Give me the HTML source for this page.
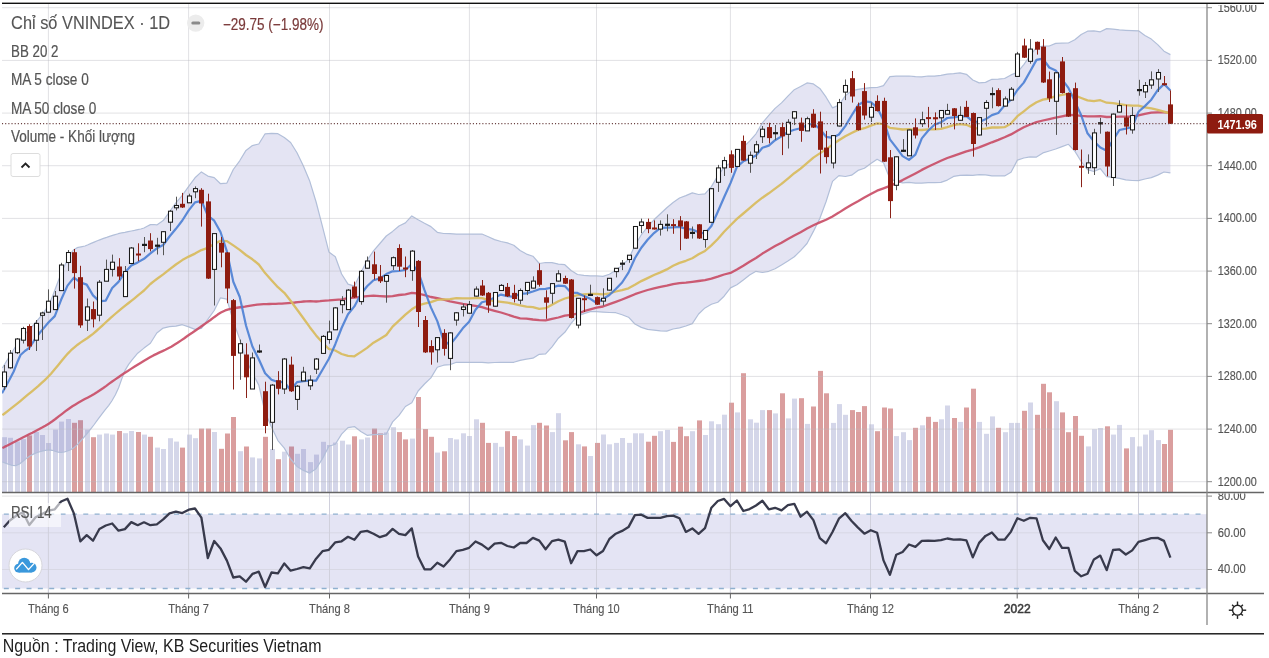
<!DOCTYPE html>
<html><head><meta charset="utf-8"><style>
html,body{margin:0;padding:0;background:#fff;}
body{width:1269px;height:658px;overflow:hidden;position:relative;}
</style></head><body>
<svg width="1269" height="658" viewBox="0 0 1269 658" style="display:block">
<defs><clipPath id="cm"><rect x="2" y="4" width="1205" height="488"/></clipPath><clipPath id="cpx"><rect x="1208" y="4.9" width="60" height="487"/></clipPath><clipPath id="cax"><rect x="1208" y="493.5" width="60" height="100"/></clipPath><clipPath id="cr"><rect x="2" y="493" width="1205" height="100"/></clipPath></defs>
<g clip-path="url(#cm)">
<rect x="2" y="437.2" width="5" height="55.3" fill="#a5a9d2" fill-opacity="0.48"/><rect x="8" y="437.8" width="5" height="54.7" fill="#a5a9d2" fill-opacity="0.48"/><rect x="15" y="441.5" width="5" height="51.0" fill="#a5a9d2" fill-opacity="0.48"/><rect x="21" y="439.2" width="5" height="53.3" fill="#a5a9d2" fill-opacity="0.48"/><rect x="27" y="435.4" width="5" height="57.1" fill="#b23434" fill-opacity="0.48"/><rect x="34" y="432.0" width="5" height="60.5" fill="#a5a9d2" fill-opacity="0.48"/><rect x="40" y="435.0" width="5" height="57.5" fill="#a5a9d2" fill-opacity="0.48"/><rect x="46" y="443.0" width="5" height="49.5" fill="#a5a9d2" fill-opacity="0.48"/><rect x="53" y="429.6" width="5" height="62.9" fill="#a5a9d2" fill-opacity="0.48"/><rect x="59" y="421.6" width="5" height="70.9" fill="#a5a9d2" fill-opacity="0.48"/><rect x="66" y="419.0" width="5" height="73.5" fill="#a5a9d2" fill-opacity="0.48"/><rect x="72" y="422.8" width="5" height="69.7" fill="#b23434" fill-opacity="0.48"/><rect x="78" y="420.2" width="5" height="72.3" fill="#b23434" fill-opacity="0.48"/><rect x="85" y="429.6" width="5" height="62.9" fill="#a5a9d2" fill-opacity="0.48"/><rect x="91" y="437.2" width="5" height="55.3" fill="#b23434" fill-opacity="0.48"/><rect x="97" y="434.6" width="5" height="57.9" fill="#a5a9d2" fill-opacity="0.48"/><rect x="104" y="433.5" width="5" height="59.0" fill="#a5a9d2" fill-opacity="0.48"/><rect x="110" y="434.6" width="5" height="57.9" fill="#a5a9d2" fill-opacity="0.48"/><rect x="117" y="431.0" width="5" height="61.5" fill="#b23434" fill-opacity="0.48"/><rect x="123" y="433.2" width="5" height="59.3" fill="#a5a9d2" fill-opacity="0.48"/><rect x="129" y="431.0" width="5" height="61.5" fill="#a5a9d2" fill-opacity="0.48"/><rect x="136" y="432.0" width="5" height="60.5" fill="#b23434" fill-opacity="0.48"/><rect x="142" y="434.6" width="5" height="57.9" fill="#a5a9d2" fill-opacity="0.48"/><rect x="148" y="436.8" width="5" height="55.7" fill="#b23434" fill-opacity="0.48"/><rect x="155" y="447.6" width="5" height="44.9" fill="#a5a9d2" fill-opacity="0.48"/><rect x="161" y="449.0" width="5" height="43.5" fill="#a5a9d2" fill-opacity="0.48"/><rect x="168" y="438.2" width="5" height="54.3" fill="#a5a9d2" fill-opacity="0.48"/><rect x="174" y="441.6" width="5" height="50.9" fill="#a5a9d2" fill-opacity="0.48"/><rect x="180" y="447.6" width="5" height="44.9" fill="#b23434" fill-opacity="0.48"/><rect x="187" y="434.6" width="5" height="57.9" fill="#a5a9d2" fill-opacity="0.48"/><rect x="193" y="438.2" width="5" height="54.3" fill="#a5a9d2" fill-opacity="0.48"/><rect x="199" y="428.6" width="5" height="63.9" fill="#b23434" fill-opacity="0.48"/><rect x="206" y="428.6" width="5" height="63.9" fill="#b23434" fill-opacity="0.48"/><rect x="212" y="432.0" width="5" height="60.5" fill="#a5a9d2" fill-opacity="0.48"/><rect x="219" y="448.8" width="5" height="43.7" fill="#b23434" fill-opacity="0.48"/><rect x="225" y="433.5" width="5" height="59.0" fill="#b23434" fill-opacity="0.48"/><rect x="231" y="417.0" width="5" height="75.5" fill="#b23434" fill-opacity="0.48"/><rect x="238" y="451.2" width="5" height="41.3" fill="#a5a9d2" fill-opacity="0.48"/><rect x="244" y="446.5" width="5" height="46.0" fill="#b23434" fill-opacity="0.48"/><rect x="250" y="457.4" width="5" height="35.1" fill="#a5a9d2" fill-opacity="0.48"/><rect x="257" y="458.4" width="5" height="34.1" fill="#a5a9d2" fill-opacity="0.48"/><rect x="263" y="436.8" width="5" height="55.7" fill="#b23434" fill-opacity="0.48"/><rect x="270" y="449.0" width="5" height="43.5" fill="#a5a9d2" fill-opacity="0.48"/><rect x="276" y="459.2" width="5" height="33.3" fill="#b23434" fill-opacity="0.48"/><rect x="282" y="451.7" width="5" height="40.8" fill="#a5a9d2" fill-opacity="0.48"/><rect x="289" y="446.5" width="5" height="46.0" fill="#b23434" fill-opacity="0.48"/><rect x="295" y="453.8" width="5" height="38.7" fill="#a5a9d2" fill-opacity="0.48"/><rect x="301" y="449.0" width="5" height="43.5" fill="#a5a9d2" fill-opacity="0.48"/><rect x="308" y="462.1" width="5" height="30.4" fill="#a5a9d2" fill-opacity="0.48"/><rect x="314" y="454.6" width="5" height="37.9" fill="#a5a9d2" fill-opacity="0.48"/><rect x="321" y="441.8" width="5" height="50.7" fill="#a5a9d2" fill-opacity="0.48"/><rect x="327" y="445.0" width="5" height="47.5" fill="#a5a9d2" fill-opacity="0.48"/><rect x="333" y="442.6" width="5" height="49.9" fill="#a5a9d2" fill-opacity="0.48"/><rect x="340" y="440.7" width="5" height="51.8" fill="#a5a9d2" fill-opacity="0.48"/><rect x="346" y="444.5" width="5" height="48.0" fill="#a5a9d2" fill-opacity="0.48"/><rect x="352" y="436.3" width="5" height="56.2" fill="#b23434" fill-opacity="0.48"/><rect x="359" y="439.4" width="5" height="53.1" fill="#a5a9d2" fill-opacity="0.48"/><rect x="365" y="437.5" width="5" height="55.0" fill="#a5a9d2" fill-opacity="0.48"/><rect x="372" y="428.6" width="5" height="63.9" fill="#b23434" fill-opacity="0.48"/><rect x="378" y="433.4" width="5" height="59.1" fill="#b23434" fill-opacity="0.48"/><rect x="384" y="432.4" width="5" height="60.1" fill="#a5a9d2" fill-opacity="0.48"/><rect x="391" y="427.2" width="5" height="65.3" fill="#a5a9d2" fill-opacity="0.48"/><rect x="397" y="432.1" width="5" height="60.4" fill="#b23434" fill-opacity="0.48"/><rect x="403" y="439.4" width="5" height="53.1" fill="#b23434" fill-opacity="0.48"/><rect x="410" y="438.6" width="5" height="53.9" fill="#a5a9d2" fill-opacity="0.48"/><rect x="416" y="397.0" width="5" height="95.5" fill="#b23434" fill-opacity="0.48"/><rect x="423" y="429.0" width="5" height="63.5" fill="#b23434" fill-opacity="0.48"/><rect x="429" y="436.8" width="5" height="55.7" fill="#b23434" fill-opacity="0.48"/><rect x="435" y="452.6" width="5" height="39.9" fill="#a5a9d2" fill-opacity="0.48"/><rect x="442" y="451.3" width="5" height="41.2" fill="#b23434" fill-opacity="0.48"/><rect x="448" y="438.0" width="5" height="54.5" fill="#a5a9d2" fill-opacity="0.48"/><rect x="454" y="439.4" width="5" height="53.1" fill="#a5a9d2" fill-opacity="0.48"/><rect x="461" y="433.3" width="5" height="59.2" fill="#a5a9d2" fill-opacity="0.48"/><rect x="467" y="436.0" width="5" height="56.5" fill="#a5a9d2" fill-opacity="0.48"/><rect x="474" y="419.3" width="5" height="73.2" fill="#a5a9d2" fill-opacity="0.48"/><rect x="480" y="422.8" width="5" height="69.7" fill="#b23434" fill-opacity="0.48"/><rect x="486" y="442.9" width="5" height="49.6" fill="#b23434" fill-opacity="0.48"/><rect x="493" y="442.9" width="5" height="49.6" fill="#a5a9d2" fill-opacity="0.48"/><rect x="499" y="446.8" width="5" height="45.7" fill="#a5a9d2" fill-opacity="0.48"/><rect x="505" y="431.2" width="5" height="61.3" fill="#b23434" fill-opacity="0.48"/><rect x="512" y="436.0" width="5" height="56.5" fill="#b23434" fill-opacity="0.48"/><rect x="518" y="439.4" width="5" height="53.1" fill="#a5a9d2" fill-opacity="0.48"/><rect x="525" y="445.6" width="5" height="46.9" fill="#a5a9d2" fill-opacity="0.48"/><rect x="531" y="425.1" width="5" height="67.4" fill="#a5a9d2" fill-opacity="0.48"/><rect x="537" y="422.8" width="5" height="69.7" fill="#b23434" fill-opacity="0.48"/><rect x="544" y="425.5" width="5" height="67.0" fill="#b23434" fill-opacity="0.48"/><rect x="550" y="432.1" width="5" height="60.4" fill="#a5a9d2" fill-opacity="0.48"/><rect x="556" y="413.2" width="5" height="79.3" fill="#a5a9d2" fill-opacity="0.48"/><rect x="563" y="440.3" width="5" height="52.2" fill="#b23434" fill-opacity="0.48"/><rect x="569" y="432.1" width="5" height="60.4" fill="#b23434" fill-opacity="0.48"/><rect x="576" y="444.3" width="5" height="48.2" fill="#a5a9d2" fill-opacity="0.48"/><rect x="582" y="446.4" width="5" height="46.1" fill="#b23434" fill-opacity="0.48"/><rect x="588" y="456.0" width="5" height="36.5" fill="#a5a9d2" fill-opacity="0.48"/><rect x="595" y="442.9" width="5" height="49.6" fill="#b23434" fill-opacity="0.48"/><rect x="601" y="434.5" width="5" height="58.0" fill="#a5a9d2" fill-opacity="0.48"/><rect x="607" y="444.3" width="5" height="48.2" fill="#a5a9d2" fill-opacity="0.48"/><rect x="614" y="442.9" width="5" height="49.6" fill="#a5a9d2" fill-opacity="0.48"/><rect x="620" y="438.0" width="5" height="54.5" fill="#a5a9d2" fill-opacity="0.48"/><rect x="627" y="442.9" width="5" height="49.6" fill="#a5a9d2" fill-opacity="0.48"/><rect x="633" y="433.3" width="5" height="59.2" fill="#a5a9d2" fill-opacity="0.48"/><rect x="639" y="433.3" width="5" height="59.2" fill="#a5a9d2" fill-opacity="0.48"/><rect x="646" y="441.7" width="5" height="50.8" fill="#b23434" fill-opacity="0.48"/><rect x="652" y="435.8" width="5" height="56.7" fill="#b23434" fill-opacity="0.48"/><rect x="658" y="431.2" width="5" height="61.3" fill="#a5a9d2" fill-opacity="0.48"/><rect x="665" y="429.9" width="5" height="62.6" fill="#a5a9d2" fill-opacity="0.48"/><rect x="671" y="441.9" width="5" height="50.6" fill="#b23434" fill-opacity="0.48"/><rect x="678" y="426.7" width="5" height="65.8" fill="#b23434" fill-opacity="0.48"/><rect x="684" y="436.2" width="5" height="56.3" fill="#b23434" fill-opacity="0.48"/><rect x="690" y="431.2" width="5" height="61.3" fill="#a5a9d2" fill-opacity="0.48"/><rect x="697" y="420.4" width="5" height="72.1" fill="#b23434" fill-opacity="0.48"/><rect x="703" y="435.0" width="5" height="57.5" fill="#a5a9d2" fill-opacity="0.48"/><rect x="709" y="421.3" width="5" height="71.2" fill="#a5a9d2" fill-opacity="0.48"/><rect x="716" y="424.2" width="5" height="68.3" fill="#a5a9d2" fill-opacity="0.48"/><rect x="722" y="414.7" width="5" height="77.8" fill="#a5a9d2" fill-opacity="0.48"/><rect x="729" y="402.7" width="5" height="89.8" fill="#b23434" fill-opacity="0.48"/><rect x="735" y="412.4" width="5" height="80.1" fill="#a5a9d2" fill-opacity="0.48"/><rect x="741" y="373.2" width="5" height="119.3" fill="#b23434" fill-opacity="0.48"/><rect x="748" y="419.3" width="5" height="73.2" fill="#a5a9d2" fill-opacity="0.48"/><rect x="754" y="422.7" width="5" height="69.8" fill="#a5a9d2" fill-opacity="0.48"/><rect x="760" y="410.1" width="5" height="82.4" fill="#a5a9d2" fill-opacity="0.48"/><rect x="767" y="410.1" width="5" height="82.4" fill="#b23434" fill-opacity="0.48"/><rect x="773" y="413.4" width="5" height="79.1" fill="#a5a9d2" fill-opacity="0.48"/><rect x="780" y="393.3" width="5" height="99.2" fill="#b23434" fill-opacity="0.48"/><rect x="786" y="418.4" width="5" height="74.1" fill="#a5a9d2" fill-opacity="0.48"/><rect x="792" y="398.6" width="5" height="93.9" fill="#a5a9d2" fill-opacity="0.48"/><rect x="799" y="398.2" width="5" height="94.3" fill="#b23434" fill-opacity="0.48"/><rect x="805" y="423.9" width="5" height="68.6" fill="#a5a9d2" fill-opacity="0.48"/><rect x="811" y="406.5" width="5" height="86.0" fill="#b23434" fill-opacity="0.48"/><rect x="818" y="370.9" width="5" height="121.6" fill="#b23434" fill-opacity="0.48"/><rect x="824" y="393.3" width="5" height="99.2" fill="#b23434" fill-opacity="0.48"/><rect x="831" y="422.9" width="5" height="69.6" fill="#a5a9d2" fill-opacity="0.48"/><rect x="837" y="404.1" width="5" height="88.4" fill="#a5a9d2" fill-opacity="0.48"/><rect x="843" y="414.8" width="5" height="77.7" fill="#a5a9d2" fill-opacity="0.48"/><rect x="850" y="410.1" width="5" height="82.4" fill="#b23434" fill-opacity="0.48"/><rect x="856" y="412.0" width="5" height="80.5" fill="#b23434" fill-opacity="0.48"/><rect x="862" y="406.1" width="5" height="86.4" fill="#b23434" fill-opacity="0.48"/><rect x="869" y="424.3" width="5" height="68.2" fill="#a5a9d2" fill-opacity="0.48"/><rect x="875" y="431.2" width="5" height="61.3" fill="#b23434" fill-opacity="0.48"/><rect x="882" y="407.5" width="5" height="85.0" fill="#b23434" fill-opacity="0.48"/><rect x="888" y="408.5" width="5" height="84.0" fill="#b23434" fill-opacity="0.48"/><rect x="894" y="436.1" width="5" height="56.4" fill="#a5a9d2" fill-opacity="0.48"/><rect x="901" y="432.2" width="5" height="60.3" fill="#a5a9d2" fill-opacity="0.48"/><rect x="907" y="440.1" width="5" height="52.4" fill="#a5a9d2" fill-opacity="0.48"/><rect x="913" y="427.8" width="5" height="64.7" fill="#b23434" fill-opacity="0.48"/><rect x="920" y="425.3" width="5" height="67.2" fill="#a5a9d2" fill-opacity="0.48"/><rect x="926" y="416.8" width="5" height="75.7" fill="#b23434" fill-opacity="0.48"/><rect x="933" y="421.9" width="5" height="70.6" fill="#b23434" fill-opacity="0.48"/><rect x="939" y="419.3" width="5" height="73.2" fill="#a5a9d2" fill-opacity="0.48"/><rect x="945" y="405.5" width="5" height="87.0" fill="#a5a9d2" fill-opacity="0.48"/><rect x="952" y="418.0" width="5" height="74.5" fill="#b23434" fill-opacity="0.48"/><rect x="958" y="421.9" width="5" height="70.6" fill="#a5a9d2" fill-opacity="0.48"/><rect x="964" y="407.5" width="5" height="85.0" fill="#b23434" fill-opacity="0.48"/><rect x="971" y="388.7" width="5" height="103.8" fill="#b23434" fill-opacity="0.48"/><rect x="977" y="421.9" width="5" height="70.6" fill="#a5a9d2" fill-opacity="0.48"/><rect x="984" y="433.8" width="5" height="58.7" fill="#a5a9d2" fill-opacity="0.48"/><rect x="990" y="416.4" width="5" height="76.1" fill="#a5a9d2" fill-opacity="0.48"/><rect x="996" y="427.8" width="5" height="64.7" fill="#b23434" fill-opacity="0.48"/><rect x="1003" y="432.2" width="5" height="60.3" fill="#a5a9d2" fill-opacity="0.48"/><rect x="1009" y="422.9" width="5" height="69.6" fill="#a5a9d2" fill-opacity="0.48"/><rect x="1015" y="422.9" width="5" height="69.6" fill="#a5a9d2" fill-opacity="0.48"/><rect x="1022" y="410.8" width="5" height="81.7" fill="#b23434" fill-opacity="0.48"/><rect x="1028" y="402.5" width="5" height="90.0" fill="#a5a9d2" fill-opacity="0.48"/><rect x="1035" y="414.8" width="5" height="77.7" fill="#b23434" fill-opacity="0.48"/><rect x="1041" y="383.8" width="5" height="108.7" fill="#b23434" fill-opacity="0.48"/><rect x="1047" y="392.3" width="5" height="100.2" fill="#b23434" fill-opacity="0.48"/><rect x="1054" y="401.2" width="5" height="91.3" fill="#a5a9d2" fill-opacity="0.48"/><rect x="1060" y="412.4" width="5" height="80.1" fill="#b23434" fill-opacity="0.48"/><rect x="1066" y="432.2" width="5" height="60.3" fill="#b23434" fill-opacity="0.48"/><rect x="1073" y="416.0" width="5" height="76.5" fill="#b23434" fill-opacity="0.48"/><rect x="1079" y="435.8" width="5" height="56.7" fill="#b23434" fill-opacity="0.48"/><rect x="1086" y="446.4" width="5" height="46.1" fill="#a5a9d2" fill-opacity="0.48"/><rect x="1092" y="429.2" width="5" height="63.3" fill="#a5a9d2" fill-opacity="0.48"/><rect x="1098" y="428.0" width="5" height="64.5" fill="#a5a9d2" fill-opacity="0.48"/><rect x="1105" y="426.3" width="5" height="66.2" fill="#b23434" fill-opacity="0.48"/><rect x="1111" y="434.6" width="5" height="57.9" fill="#a5a9d2" fill-opacity="0.48"/><rect x="1117" y="424.9" width="5" height="67.6" fill="#a5a9d2" fill-opacity="0.48"/><rect x="1124" y="448.4" width="5" height="44.1" fill="#b23434" fill-opacity="0.48"/><rect x="1130" y="437.1" width="5" height="55.4" fill="#a5a9d2" fill-opacity="0.48"/><rect x="1137" y="446.4" width="5" height="46.1" fill="#a5a9d2" fill-opacity="0.48"/><rect x="1143" y="434.6" width="5" height="57.9" fill="#a5a9d2" fill-opacity="0.48"/><rect x="1149" y="430.2" width="5" height="62.3" fill="#a5a9d2" fill-opacity="0.48"/><rect x="1156" y="440.1" width="5" height="52.4" fill="#a5a9d2" fill-opacity="0.48"/><rect x="1162" y="444.0" width="5" height="48.5" fill="#b23434" fill-opacity="0.48"/><rect x="1168" y="429.8" width="5" height="62.7" fill="#b23434" fill-opacity="0.48"/>
<polygon points="2.4,368.0 4.8,364.0 8.3,358.3 12.3,351.7 16.4,345.3 20.0,340.0 23.9,335.1 27.7,331.2 31.3,327.5 34.9,323.5 38.6,319.0 42.3,314.3 45.7,309.6 48.7,305.0 52.7,296.0 56.0,287.0 59.6,277.5 63.5,268.0 66.6,261.4 69.9,254.9 73.4,250.0 77.1,247.7 81.0,246.9 85.0,246.0 88.0,244.8 91.1,243.4 94.2,242.1 97.3,240.8 100.4,239.6 103.6,238.4 106.7,237.4 109.5,236.4 114.2,234.9 118.2,233.7 121.7,232.9 124.9,232.3 128.1,231.6 131.3,231.0 134.5,230.4 137.7,229.7 140.8,229.0 144.0,228.0 147.2,226.2 150.4,224.6 154.0,224.5 156.8,224.9 163.2,220.6 169.5,211.9 175.9,202.8 182.3,195.4 188.7,186.3 195.0,177.8 201.4,171.9 207.8,176.1 214.2,177.6 220.5,183.7 226.9,183.1 233.3,169.5 239.7,160.8 246.0,150.4 252.4,145.6 258.8,144.0 265.1,133.8 271.5,133.3 277.9,133.7 284.3,137.5 290.6,142.5 297.0,152.7 303.4,166.1 309.8,181.3 316.1,202.0 322.5,226.6 328.9,251.9 335.3,256.8 341.6,274.0 348.0,284.1 354.4,286.1 360.8,272.7 367.1,260.4 373.5,250.8 379.9,243.5 386.3,236.0 392.6,231.4 399.0,226.0 405.4,222.9 411.8,215.9 418.1,219.8 424.5,223.3 430.9,226.6 437.3,232.3 443.6,233.5 450.0,233.7 456.4,234.1 462.8,234.2 469.1,234.2 475.5,234.1 481.9,234.0 488.3,236.8 494.6,239.6 501.0,241.5 507.4,242.9 513.8,245.3 520.1,250.5 526.5,254.1 532.9,256.2 539.3,263.5 545.6,262.5 552.0,262.7 558.4,264.1 564.8,264.7 571.1,270.5 577.5,274.5 583.9,275.3 590.3,275.9 596.6,275.9 603.0,276.4 609.4,274.3 615.8,270.3 622.1,265.4 628.5,259.4 634.9,245.6 641.3,234.8 647.6,226.7 654.0,219.8 660.4,213.8 666.8,207.7 673.1,202.5 679.5,198.0 685.9,195.6 692.3,192.9 698.6,194.5 705.0,193.9 711.4,186.6 717.8,175.9 724.1,167.4 730.5,162.8 736.9,153.0 743.3,147.1 749.6,141.1 756.0,133.8 762.4,122.9 768.8,115.4 775.1,108.4 781.5,102.9 787.9,96.1 794.3,89.7 800.6,86.5 807.0,82.9 813.4,83.9 819.8,88.4 826.1,97.2 832.5,107.9 838.9,105.1 845.3,95.9 851.6,90.8 858.0,89.4 864.4,88.3 870.8,87.6 877.1,87.5 883.5,85.6 889.9,76.7 896.3,76.2 902.6,76.2 909.0,76.0 915.4,76.7 921.8,76.9 928.1,76.0 934.5,76.1 940.9,75.4 947.3,74.1 953.6,73.7 960.0,72.8 966.4,74.3 972.8,80.0 979.1,82.9 985.5,82.4 991.9,79.3 998.3,79.1 1004.6,78.5 1011.0,74.9 1017.4,72.4 1023.8,64.6 1030.2,55.7 1036.5,47.3 1042.9,46.2 1049.3,46.0 1055.7,43.4 1062.0,43.2 1068.4,43.0 1074.8,39.7 1081.2,34.5 1087.5,31.2 1093.9,30.9 1100.3,31.8 1106.7,28.6 1113.0,29.1 1119.4,29.9 1125.8,30.3 1132.2,30.6 1138.5,30.8 1144.9,35.5 1151.3,39.1 1157.7,44.6 1164.0,51.2 1170.4,54.6 1170.4,172.8 1164.0,172.0 1157.7,175.1 1151.3,177.6 1144.9,179.0 1138.5,180.6 1132.2,180.5 1125.8,179.9 1119.4,178.3 1113.0,177.4 1106.7,176.7 1100.3,168.6 1093.9,171.5 1087.5,169.6 1081.2,161.5 1074.8,151.1 1068.4,144.3 1062.0,146.6 1055.7,149.0 1049.3,151.0 1042.9,152.9 1036.5,157.1 1030.2,156.8 1023.8,158.0 1017.4,160.1 1011.0,172.3 1004.6,175.9 998.3,175.8 991.9,175.8 985.5,174.8 979.1,174.6 972.8,175.4 966.4,175.2 960.0,175.4 953.6,176.4 947.3,180.1 940.9,182.4 934.5,182.7 928.1,182.7 921.8,183.1 915.4,183.1 909.0,182.4 902.6,182.8 896.3,181.3 889.9,178.9 883.5,162.8 877.1,159.3 870.8,163.6 864.4,168.2 858.0,170.4 851.6,175.2 845.3,176.5 838.9,175.6 832.5,181.4 826.1,201.5 819.8,218.5 813.4,231.4 807.0,243.5 800.6,250.6 794.3,256.8 787.9,261.1 781.5,265.0 775.1,268.8 768.8,271.3 762.4,272.5 756.0,271.3 749.6,275.1 743.3,279.9 736.9,284.7 730.5,287.9 724.1,296.2 717.8,302.2 711.4,304.2 705.0,307.9 698.6,314.0 692.3,323.6 685.9,326.0 679.5,327.8 673.1,329.0 666.8,331.1 660.4,330.9 654.0,330.1 647.6,329.4 641.3,327.4 634.9,324.0 628.5,317.2 622.1,314.7 615.8,312.7 609.4,312.5 603.0,312.1 596.6,311.7 590.3,311.7 583.9,313.6 577.5,315.9 571.1,323.4 564.8,332.3 558.4,338.2 552.0,346.8 545.6,353.8 539.3,354.3 532.9,358.2 526.5,359.1 520.1,360.4 513.8,362.3 507.4,362.4 501.0,362.3 494.6,362.5 488.3,362.9 481.9,362.3 475.5,362.4 469.1,362.4 462.8,362.4 456.4,362.3 450.0,364.6 443.6,365.2 437.3,367.3 430.9,377.9 424.5,384.0 418.1,391.0 411.8,402.8 405.4,406.5 399.0,415.4 392.6,421.9 386.3,434.1 379.9,434.3 373.5,434.7 367.1,435.3 360.8,431.5 354.4,426.6 348.0,427.7 341.6,434.1 335.3,444.2 328.9,446.2 322.5,458.6 316.1,468.7 309.8,473.1 303.4,470.4 297.0,466.4 290.6,459.0 284.3,448.1 277.9,440.6 271.5,427.0 265.1,412.5 258.8,385.1 252.4,373.0 246.0,359.6 239.7,339.1 233.3,321.3 226.9,299.1 220.5,297.8 214.2,310.5 207.8,319.4 201.4,328.3 195.0,329.4 188.7,326.9 182.3,324.7 175.9,326.2 169.5,326.6 163.2,328.1 156.8,333.0 150.4,343.3 144.0,348.1 137.7,353.2 131.3,360.8 128.5,364.6 124.9,370.6 121.7,379.1 118.5,388.0 115.4,394.7 111.8,401.0 108.6,405.6 104.9,410.2 101.3,414.9 97.7,419.7 94.2,424.5 90.8,428.9 86.3,434.5 82.1,439.4 78.0,444.1 73.4,448.1 70.6,449.7 67.5,451.0 64.3,452.0 61.1,452.5 58.1,452.2 55.1,451.3 52.1,450.3 48.9,449.9 45.4,450.3 41.7,451.2 38.1,452.3 34.9,453.4 30.3,455.8 26.2,458.6 22.9,461.2 19.5,464.0 15.7,465.6 12.3,465.4 8.4,464.2 4.9,462.9 2.4,462.0" fill="#5a5ab4" fill-opacity="0.16"/>
<polyline points="2.4,368.0 4.8,364.0 8.3,358.3 12.3,351.7 16.4,345.3 20.0,340.0 23.9,335.1 27.7,331.2 31.3,327.5 34.9,323.5 38.6,319.0 42.3,314.3 45.7,309.6 48.7,305.0 52.7,296.0 56.0,287.0 59.6,277.5 63.5,268.0 66.6,261.4 69.9,254.9 73.4,250.0 77.1,247.7 81.0,246.9 85.0,246.0 88.0,244.8 91.1,243.4 94.2,242.1 97.3,240.8 100.4,239.6 103.6,238.4 106.7,237.4 109.5,236.4 114.2,234.9 118.2,233.7 121.7,232.9 124.9,232.3 128.1,231.6 131.3,231.0 134.5,230.4 137.7,229.7 140.8,229.0 144.0,228.0 147.2,226.2 150.4,224.6 154.0,224.5 156.8,224.9 163.2,220.6 169.5,211.9 175.9,202.8 182.3,195.4 188.7,186.3 195.0,177.8 201.4,171.9 207.8,176.1 214.2,177.6 220.5,183.7 226.9,183.1 233.3,169.5 239.7,160.8 246.0,150.4 252.4,145.6 258.8,144.0 265.1,133.8 271.5,133.3 277.9,133.7 284.3,137.5 290.6,142.5 297.0,152.7 303.4,166.1 309.8,181.3 316.1,202.0 322.5,226.6 328.9,251.9 335.3,256.8 341.6,274.0 348.0,284.1 354.4,286.1 360.8,272.7 367.1,260.4 373.5,250.8 379.9,243.5 386.3,236.0 392.6,231.4 399.0,226.0 405.4,222.9 411.8,215.9 418.1,219.8 424.5,223.3 430.9,226.6 437.3,232.3 443.6,233.5 450.0,233.7 456.4,234.1 462.8,234.2 469.1,234.2 475.5,234.1 481.9,234.0 488.3,236.8 494.6,239.6 501.0,241.5 507.4,242.9 513.8,245.3 520.1,250.5 526.5,254.1 532.9,256.2 539.3,263.5 545.6,262.5 552.0,262.7 558.4,264.1 564.8,264.7 571.1,270.5 577.5,274.5 583.9,275.3 590.3,275.9 596.6,275.9 603.0,276.4 609.4,274.3 615.8,270.3 622.1,265.4 628.5,259.4 634.9,245.6 641.3,234.8 647.6,226.7 654.0,219.8 660.4,213.8 666.8,207.7 673.1,202.5 679.5,198.0 685.9,195.6 692.3,192.9 698.6,194.5 705.0,193.9 711.4,186.6 717.8,175.9 724.1,167.4 730.5,162.8 736.9,153.0 743.3,147.1 749.6,141.1 756.0,133.8 762.4,122.9 768.8,115.4 775.1,108.4 781.5,102.9 787.9,96.1 794.3,89.7 800.6,86.5 807.0,82.9 813.4,83.9 819.8,88.4 826.1,97.2 832.5,107.9 838.9,105.1 845.3,95.9 851.6,90.8 858.0,89.4 864.4,88.3 870.8,87.6 877.1,87.5 883.5,85.6 889.9,76.7 896.3,76.2 902.6,76.2 909.0,76.0 915.4,76.7 921.8,76.9 928.1,76.0 934.5,76.1 940.9,75.4 947.3,74.1 953.6,73.7 960.0,72.8 966.4,74.3 972.8,80.0 979.1,82.9 985.5,82.4 991.9,79.3 998.3,79.1 1004.6,78.5 1011.0,74.9 1017.4,72.4 1023.8,64.6 1030.2,55.7 1036.5,47.3 1042.9,46.2 1049.3,46.0 1055.7,43.4 1062.0,43.2 1068.4,43.0 1074.8,39.7 1081.2,34.5 1087.5,31.2 1093.9,30.9 1100.3,31.8 1106.7,28.6 1113.0,29.1 1119.4,29.9 1125.8,30.3 1132.2,30.6 1138.5,30.8 1144.9,35.5 1151.3,39.1 1157.7,44.6 1164.0,51.2 1170.4,54.6" fill="none" stroke="#b2bfd9" stroke-width="1.2" stroke-linejoin="round"/>
<polyline points="2.4,462.0 4.9,462.9 8.4,464.2 12.3,465.4 15.7,465.6 19.5,464.0 22.9,461.2 26.2,458.6 30.3,455.8 34.9,453.4 38.1,452.3 41.7,451.2 45.4,450.3 48.9,449.9 52.1,450.3 55.1,451.3 58.1,452.2 61.1,452.5 64.3,452.0 67.5,451.0 70.6,449.7 73.4,448.1 78.0,444.1 82.1,439.4 86.3,434.5 90.8,428.9 94.2,424.5 97.7,419.7 101.3,414.9 104.9,410.2 108.6,405.6 111.8,401.0 115.4,394.7 118.5,388.0 121.7,379.1 124.9,370.6 128.5,364.6 131.3,360.8 137.7,353.2 144.0,348.1 150.4,343.3 156.8,333.0 163.2,328.1 169.5,326.6 175.9,326.2 182.3,324.7 188.7,326.9 195.0,329.4 201.4,328.3 207.8,319.4 214.2,310.5 220.5,297.8 226.9,299.1 233.3,321.3 239.7,339.1 246.0,359.6 252.4,373.0 258.8,385.1 265.1,412.5 271.5,427.0 277.9,440.6 284.3,448.1 290.6,459.0 297.0,466.4 303.4,470.4 309.8,473.1 316.1,468.7 322.5,458.6 328.9,446.2 335.3,444.2 341.6,434.1 348.0,427.7 354.4,426.6 360.8,431.5 367.1,435.3 373.5,434.7 379.9,434.3 386.3,434.1 392.6,421.9 399.0,415.4 405.4,406.5 411.8,402.8 418.1,391.0 424.5,384.0 430.9,377.9 437.3,367.3 443.6,365.2 450.0,364.6 456.4,362.3 462.8,362.4 469.1,362.4 475.5,362.4 481.9,362.3 488.3,362.9 494.6,362.5 501.0,362.3 507.4,362.4 513.8,362.3 520.1,360.4 526.5,359.1 532.9,358.2 539.3,354.3 545.6,353.8 552.0,346.8 558.4,338.2 564.8,332.3 571.1,323.4 577.5,315.9 583.9,313.6 590.3,311.7 596.6,311.7 603.0,312.1 609.4,312.5 615.8,312.7 622.1,314.7 628.5,317.2 634.9,324.0 641.3,327.4 647.6,329.4 654.0,330.1 660.4,330.9 666.8,331.1 673.1,329.0 679.5,327.8 685.9,326.0 692.3,323.6 698.6,314.0 705.0,307.9 711.4,304.2 717.8,302.2 724.1,296.2 730.5,287.9 736.9,284.7 743.3,279.9 749.6,275.1 756.0,271.3 762.4,272.5 768.8,271.3 775.1,268.8 781.5,265.0 787.9,261.1 794.3,256.8 800.6,250.6 807.0,243.5 813.4,231.4 819.8,218.5 826.1,201.5 832.5,181.4 838.9,175.6 845.3,176.5 851.6,175.2 858.0,170.4 864.4,168.2 870.8,163.6 877.1,159.3 883.5,162.8 889.9,178.9 896.3,181.3 902.6,182.8 909.0,182.4 915.4,183.1 921.8,183.1 928.1,182.7 934.5,182.7 940.9,182.4 947.3,180.1 953.6,176.4 960.0,175.4 966.4,175.2 972.8,175.4 979.1,174.6 985.5,174.8 991.9,175.8 998.3,175.8 1004.6,175.9 1011.0,172.3 1017.4,160.1 1023.8,158.0 1030.2,156.8 1036.5,157.1 1042.9,152.9 1049.3,151.0 1055.7,149.0 1062.0,146.6 1068.4,144.3 1074.8,151.1 1081.2,161.5 1087.5,169.6 1093.9,171.5 1100.3,168.6 1106.7,176.7 1113.0,177.4 1119.4,178.3 1125.8,179.9 1132.2,180.5 1138.5,180.6 1144.9,179.0 1151.3,177.6 1157.7,175.1 1164.0,172.0 1170.4,172.8" fill="none" stroke="#b2bfd9" stroke-width="1.2" stroke-linejoin="round"/>
</g>
<g stroke="#b8b8be" stroke-opacity="0.42" stroke-width="1"><line x1="2" y1="481.7" x2="1207" y2="481.7"/><line x1="2" y1="429.1" x2="1207" y2="429.1"/><line x1="2" y1="376.4" x2="1207" y2="376.4"/><line x1="2" y1="323.7" x2="1207" y2="323.7"/><line x1="2" y1="271.1" x2="1207" y2="271.1"/><line x1="2" y1="218.4" x2="1207" y2="218.4"/><line x1="2" y1="165.7" x2="1207" y2="165.7"/><line x1="2" y1="113.1" x2="1207" y2="113.1"/><line x1="2" y1="60.4" x2="1207" y2="60.4"/><line x1="2" y1="7.7" x2="1207" y2="7.7"/><line x1="48.4" y1="4" x2="48.4" y2="593.5"/><line x1="188.6" y1="4" x2="188.6" y2="593.5"/><line x1="329.5" y1="4" x2="329.5" y2="593.5"/><line x1="469.4" y1="4" x2="469.4" y2="593.5"/><line x1="596.5" y1="4" x2="596.5" y2="593.5"/><line x1="730.4" y1="4" x2="730.4" y2="593.5"/><line x1="870.5" y1="4" x2="870.5" y2="593.5"/><line x1="1017.2" y1="4" x2="1017.2" y2="593.5"/><line x1="1138.5" y1="4" x2="1138.5" y2="593.5"/><line x1="2" y1="496.1" x2="1207" y2="496.1"/><line x1="2" y1="532.8" x2="1207" y2="532.8"/><line x1="2" y1="569.5" x2="1207" y2="569.5"/></g>
<g clip-path="url(#cm)">
<polyline points="2.4,448.0 4.5,446.9 7.4,445.5 10.8,443.7 14.6,441.8 18.5,439.8 22.3,437.8 25.8,436.0 29.1,434.3 32.4,432.7 35.6,431.0 38.9,429.3 42.1,427.6 45.4,425.7 48.7,423.7 52.0,421.5 55.4,419.0 58.7,416.4 62.1,413.8 65.5,411.2 68.9,408.7 72.4,406.3 75.5,404.4 78.6,402.6 81.7,400.8 84.8,399.1 88.0,397.4 91.1,395.7 94.2,393.9 97.3,392.0 100.3,390.0 103.3,388.0 106.3,385.9 109.2,383.7 112.2,381.5 115.3,379.4 118.4,377.2 121.6,375.0 124.6,373.0 127.8,371.0 131.0,368.9 134.3,366.8 137.6,364.7 140.9,362.7 144.1,360.8 147.1,359.0 150.0,357.3 153.4,355.4 156.6,353.9 159.6,352.4 162.5,351.1 165.4,349.8 168.3,348.3 171.3,346.7 174.4,344.8 177.6,342.8 180.8,340.6 184.0,338.5 187.0,336.3 189.9,334.3 192.6,332.5 196.6,329.7 200.1,327.3 203.3,325.0 206.7,322.6 210.4,320.0 214.1,317.2 217.7,314.6 220.9,312.6 225.2,310.4 229.4,309.1 232.2,308.5 235.2,308.0 238.5,307.5 242.2,307.0 244.9,306.6 247.7,306.1 250.7,305.6 253.8,305.2 257.1,304.7 260.6,304.4 263.4,304.2 266.3,304.1 269.4,304.0 272.5,303.9 275.7,303.8 278.8,303.7 281.9,303.6 284.8,303.4 288.1,303.1 291.4,302.8 294.7,302.5 297.8,302.1 300.8,301.8 303.6,301.5 306.0,301.3 310.3,301.2 313.5,301.4 316.1,301.5 320.0,301.2 322.5,300.8 328.9,300.4 335.3,299.8 341.6,299.3 348.0,298.2 354.4,297.7 360.8,296.8 367.1,296.2 373.5,295.7 379.9,296.1 386.3,296.5 392.6,296.2 399.0,295.0 405.4,294.3 411.8,292.9 418.1,293.5 424.5,295.2 430.9,297.0 437.3,298.2 443.6,299.7 450.0,301.4 456.4,302.6 462.8,303.9 469.1,305.0 475.5,305.9 481.9,307.2 488.3,309.1 494.6,310.8 501.0,312.5 507.4,314.5 513.8,316.6 520.1,318.3 526.5,318.6 532.9,319.5 539.3,320.2 545.6,320.3 552.0,318.9 558.4,317.5 564.8,315.6 571.1,314.8 577.5,313.7 583.9,311.2 590.3,309.4 596.6,307.7 603.0,306.5 609.4,304.2 615.8,301.9 622.1,299.5 628.5,296.9 634.9,294.2 641.3,292.0 647.6,290.0 654.0,288.4 660.4,286.9 666.8,285.6 673.1,284.1 679.5,283.2 685.9,282.6 692.3,281.8 698.6,281.0 705.0,280.1 711.4,278.7 717.8,276.7 724.1,274.5 730.5,272.9 736.9,269.6 743.3,265.8 749.6,261.8 756.0,258.0 762.4,253.6 768.8,249.7 775.1,246.1 781.5,242.7 787.9,239.0 794.3,235.6 800.6,232.3 807.0,228.6 813.4,225.3 819.8,222.4 826.1,219.7 832.5,216.4 838.9,212.6 845.3,208.5 851.6,204.8 858.0,201.3 864.4,197.6 870.8,194.1 877.1,190.7 883.5,188.3 889.9,185.9 896.3,183.1 902.6,180.1 909.0,176.8 915.4,173.4 921.8,169.9 928.1,166.7 934.5,163.7 940.9,160.8 947.3,158.0 953.6,155.8 960.0,153.6 966.4,151.3 972.8,149.6 979.1,147.4 985.5,144.9 991.9,142.3 998.3,139.9 1004.6,137.3 1011.0,134.4 1017.4,130.7 1023.8,127.3 1030.2,124.5 1036.5,122.1 1042.9,120.5 1049.3,119.1 1055.7,117.6 1062.0,116.3 1068.4,115.0 1074.8,115.1 1081.2,115.9 1087.5,116.4 1093.9,116.4 1100.3,116.1 1106.7,117.0 1113.0,116.9 1119.4,116.6 1125.8,116.7 1132.2,116.5 1138.5,115.3 1144.9,113.9 1151.3,112.7 1157.7,112.3 1164.0,112.3 1170.4,112.8" fill="none" stroke="#c84a64" stroke-opacity="0.9" stroke-width="2.3" stroke-linejoin="round"/>
<polyline points="2.4,415.2 4.6,413.5 7.7,411.1 11.4,408.2 15.6,404.9 20.0,401.3 22.6,399.1 25.5,396.7 28.5,394.2 31.7,391.6 34.9,388.9 38.2,386.1 41.4,383.2 44.5,380.4 47.4,377.5 51.0,373.7 54.5,369.6 57.9,365.5 61.3,361.3 64.6,357.3 67.8,353.6 71.1,350.2 74.4,347.3 77.6,344.7 80.8,342.4 84.0,340.3 87.1,338.2 90.1,336.0 93.0,333.8 96.3,331.0 99.5,328.2 102.6,325.3 105.6,322.5 108.5,319.8 111.2,317.4 115.1,314.0 118.8,310.9 122.1,308.2 124.9,305.9 128.6,303.0 131.3,300.9 134.5,298.3 137.7,295.6 140.8,293.1 144.0,290.5 147.2,287.2 150.4,284.0 154.0,281.1 156.8,279.0 163.2,274.4 169.5,269.3 175.9,264.5 182.3,260.1 188.7,256.6 195.0,253.6 201.4,250.1 207.8,247.8 214.2,244.1 220.5,240.8 226.9,241.1 233.3,245.4 239.7,249.9 246.0,255.0 252.4,259.3 258.8,264.5 265.1,273.1 271.5,280.2 277.9,287.2 284.3,292.8 290.6,300.8 297.0,309.5 303.4,318.3 309.8,327.2 316.1,335.4 322.5,342.6 328.9,349.0 335.3,350.5 341.6,354.0 348.0,355.9 354.4,356.3 360.8,352.1 367.1,347.9 373.5,342.7 379.9,338.9 386.3,335.0 392.6,326.6 399.0,320.7 405.4,314.7 411.8,309.3 418.1,305.4 424.5,303.7 430.9,302.2 437.3,299.8 443.6,299.3 450.0,299.2 456.4,298.2 462.8,298.3 469.1,298.3 475.5,298.2 481.9,298.1 488.3,299.8 494.6,301.1 501.0,301.9 507.4,302.6 513.8,303.8 520.1,305.4 526.5,306.6 532.9,307.2 539.3,308.9 545.6,308.2 552.0,304.7 558.4,301.2 564.8,298.5 571.1,296.9 577.5,295.2 583.9,294.5 590.3,293.8 596.6,293.8 603.0,294.3 609.4,293.4 615.8,291.5 622.1,290.1 628.5,288.3 634.9,284.8 641.3,281.1 647.6,278.1 654.0,275.0 660.4,272.4 666.8,269.4 673.1,265.8 679.5,262.9 685.9,260.8 692.3,258.3 698.6,254.3 705.0,250.9 711.4,245.4 717.8,239.0 724.1,231.8 730.5,225.3 736.9,218.9 743.3,213.5 749.6,208.1 756.0,202.6 762.4,197.7 768.8,193.3 775.1,188.6 781.5,183.9 787.9,178.6 794.3,173.2 800.6,168.6 807.0,163.2 813.4,157.6 819.8,153.4 826.1,149.4 832.5,144.6 838.9,140.3 845.3,136.2 851.6,133.0 858.0,129.9 864.4,128.2 870.8,125.6 877.1,123.4 883.5,124.2 889.9,127.8 896.3,128.7 902.6,129.5 909.0,129.2 915.4,129.9 921.8,130.0 928.1,129.4 934.5,129.4 940.9,128.9 947.3,127.1 953.6,125.1 960.0,124.1 966.4,124.8 972.8,127.7 979.1,128.8 985.5,128.6 991.9,127.5 998.3,127.5 1004.6,127.2 1011.0,123.6 1017.4,116.2 1023.8,111.3 1030.2,106.2 1036.5,102.2 1042.9,99.6 1049.3,98.5 1055.7,96.2 1062.0,94.9 1068.4,93.6 1074.8,95.4 1081.2,98.0 1087.5,100.4 1093.9,101.2 1100.3,100.2 1106.7,102.7 1113.0,103.2 1119.4,104.1 1125.8,105.1 1132.2,105.6 1138.5,105.7 1144.9,107.3 1151.3,108.4 1157.7,109.9 1164.0,111.6 1170.4,113.7" fill="none" stroke="#d8bc60" stroke-opacity="0.95" stroke-width="2.3" stroke-linejoin="round"/>
<polyline points="2.0,393.3 5.2,387.5 9.7,379.2 13.7,371.5 17.3,362.3 20.5,355.0 24.9,351.0 29.3,347.8 32.6,343.0 35.6,338.1 39.2,333.5 42.0,330.1 48.4,322.5 54.8,316.1 61.1,299.8 67.5,285.6 73.9,277.6 80.3,282.4 86.7,284.6 93.0,295.4 99.4,301.4 105.8,300.6 112.2,288.0 118.5,281.9 124.9,272.4 131.3,265.5 137.7,262.4 144.0,258.8 150.4,253.3 156.8,248.3 163.2,245.0 169.5,236.5 175.9,228.8 182.3,220.5 188.7,210.4 195.0,202.4 201.4,200.9 207.8,215.5 214.2,220.7 220.5,232.0 226.9,251.4 233.3,281.8 239.7,296.7 246.0,325.5 252.4,346.5 258.8,359.3 265.1,373.3 271.5,379.7 277.9,382.0 284.3,382.2 290.6,390.0 297.0,382.1 303.4,381.2 309.8,380.6 316.1,380.6 322.5,369.7 328.9,358.8 335.3,344.2 341.6,328.0 348.0,314.2 354.4,306.4 360.8,294.3 367.1,286.3 373.5,280.2 379.9,278.4 386.3,274.1 392.6,271.3 399.0,271.0 405.4,270.0 411.8,264.0 418.1,271.3 424.5,290.2 430.9,307.4 437.3,321.1 443.6,340.7 450.0,344.8 456.4,336.9 462.8,328.3 469.1,321.7 475.5,309.8 481.9,302.3 488.3,300.8 494.6,297.4 501.0,294.6 507.4,296.1 513.8,296.8 520.1,293.8 526.5,293.4 532.9,291.5 539.3,289.2 545.6,288.8 552.0,287.5 558.4,285.6 564.8,286.1 571.1,292.7 577.5,292.9 583.9,295.9 590.3,298.8 596.6,303.0 603.0,299.0 609.4,295.0 615.8,289.0 622.1,282.5 628.5,272.6 634.9,258.2 641.3,247.7 647.6,239.8 654.0,233.1 660.4,227.9 666.8,227.6 673.1,227.4 679.5,226.9 685.9,228.8 692.3,229.6 698.6,232.3 705.0,233.5 711.4,226.0 717.8,211.8 724.1,197.2 730.5,183.1 736.9,166.9 743.3,161.3 749.6,158.8 756.0,155.6 762.4,147.8 768.8,145.6 775.1,140.2 781.5,136.4 787.9,132.0 794.3,129.7 800.6,128.3 807.0,125.3 813.4,123.5 819.8,129.0 826.1,136.8 832.5,137.8 838.9,134.5 845.3,126.1 851.6,115.5 858.0,105.3 864.4,101.3 870.8,102.2 877.1,107.3 883.5,120.4 889.9,139.4 896.3,147.6 902.6,156.1 909.0,159.9 915.4,154.7 921.8,138.4 928.1,130.8 934.5,124.7 940.9,122.3 947.3,118.0 953.6,117.3 960.0,116.5 966.4,116.1 972.8,121.3 979.1,122.0 985.5,119.3 991.9,115.1 998.3,113.0 1004.6,105.4 1011.0,99.7 1017.4,90.0 1023.8,82.6 1030.2,71.2 1036.5,59.9 1042.9,58.6 1049.3,67.5 1055.7,70.5 1062.0,79.3 1068.4,87.9 1074.8,101.4 1081.2,115.3 1087.5,133.3 1093.9,141.3 1100.3,147.5 1106.7,150.8 1113.0,140.1 1119.4,130.0 1125.8,128.7 1132.2,127.0 1138.5,111.8 1144.9,106.1 1151.3,99.7 1157.7,90.1 1164.0,84.1 1170.4,90.6" fill="none" stroke="#4a7ed4" stroke-opacity="0.9" stroke-width="2.2" stroke-linejoin="round"/>
<line x1="4.5" y1="365.0" x2="4.5" y2="390.0" stroke="#555" stroke-width="1"/><rect x="2.5" y="372.0" width="4" height="14.6" fill="#fff" stroke="#1a1a1a" stroke-width="1.05"/><line x1="10.5" y1="350.0" x2="10.5" y2="368.6" stroke="#555" stroke-width="1"/><rect x="8.5" y="353.2" width="4" height="14.6" fill="#fff" stroke="#1a1a1a" stroke-width="1.05"/><line x1="17.5" y1="338.0" x2="17.5" y2="354.0" stroke="#555" stroke-width="1"/><rect x="15.5" y="339.0" width="4" height="13.7" fill="#fff" stroke="#1a1a1a" stroke-width="1.05"/><line x1="23.5" y1="326.8" x2="23.5" y2="343.5" stroke="#555" stroke-width="1"/><rect x="21.5" y="328.5" width="4" height="11.7" fill="#fff" stroke="#1a1a1a" stroke-width="1.05"/><line x1="29.5" y1="324.3" x2="29.5" y2="350.0" stroke="#8a2218" stroke-width="1"/><rect x="27" y="326.0" width="5" height="20.5" fill="#8e1c10"/><line x1="36.5" y1="320.0" x2="36.5" y2="351.0" stroke="#555" stroke-width="1"/><rect x="34.5" y="323.4" width="4" height="16.8" fill="#fff" stroke="#1a1a1a" stroke-width="1.05"/><line x1="42.5" y1="311.7" x2="42.5" y2="340.0" stroke="#555" stroke-width="1"/><rect x="40.5" y="313.0" width="4" height="2.3" fill="#fff" stroke="#1a1a1a" stroke-width="1.05"/><line x1="48.5" y1="289.4" x2="48.5" y2="312.6" stroke="#555" stroke-width="1"/><rect x="46.5" y="301.2" width="4" height="11.0" fill="#fff" stroke="#1a1a1a" stroke-width="1.05"/><line x1="55.5" y1="291.0" x2="55.5" y2="309.6" stroke="#555" stroke-width="1"/><rect x="53.5" y="296.2" width="4" height="13.4" fill="#fff" stroke="#1a1a1a" stroke-width="1.05"/><line x1="61.5" y1="262.8" x2="61.5" y2="290.6" stroke="#555" stroke-width="1"/><rect x="59.5" y="265.0" width="4" height="25.6" fill="#fff" stroke="#1a1a1a" stroke-width="1.05"/><line x1="68.5" y1="250.0" x2="68.5" y2="271.0" stroke="#555" stroke-width="1"/><rect x="66.5" y="252.5" width="4" height="10.0" fill="#fff" stroke="#1a1a1a" stroke-width="1.05"/><line x1="74.5" y1="249.0" x2="74.5" y2="288.6" stroke="#8a2218" stroke-width="1"/><rect x="72" y="252.2" width="5" height="20.9" fill="#8e1c10"/><line x1="80.5" y1="265.8" x2="80.5" y2="327.8" stroke="#8a2218" stroke-width="1"/><rect x="78" y="277.2" width="5" height="48.2" fill="#8e1c10"/><line x1="87.5" y1="298.5" x2="87.5" y2="331.0" stroke="#555" stroke-width="1"/><rect x="85.5" y="306.9" width="4" height="13.3" fill="#fff" stroke="#1a1a1a" stroke-width="1.05"/><line x1="93.5" y1="301.5" x2="93.5" y2="327.4" stroke="#8a2218" stroke-width="1"/><rect x="91" y="309.1" width="5" height="10.2" fill="#8e1c10"/><line x1="99.5" y1="280.0" x2="99.5" y2="321.3" stroke="#555" stroke-width="1"/><rect x="97.5" y="282.2" width="4" height="33.0" fill="#fff" stroke="#1a1a1a" stroke-width="1.05"/><line x1="106.5" y1="259.6" x2="106.5" y2="281.2" stroke="#555" stroke-width="1"/><rect x="104.5" y="269.4" width="4" height="11.8" fill="#fff" stroke="#1a1a1a" stroke-width="1.05"/><line x1="112.5" y1="254.6" x2="112.5" y2="276.5" stroke="#555" stroke-width="1"/><rect x="110.5" y="262.2" width="4" height="7.2" fill="#fff" stroke="#1a1a1a" stroke-width="1.05"/><line x1="119.5" y1="258.2" x2="119.5" y2="280.0" stroke="#8a2218" stroke-width="1"/><rect x="117" y="266.5" width="5" height="10.0" fill="#8e1c10"/><line x1="125.5" y1="266.0" x2="125.5" y2="296.6" stroke="#555" stroke-width="1"/><rect x="123.5" y="271.5" width="4" height="25.1" fill="#fff" stroke="#1a1a1a" stroke-width="1.05"/><line x1="131.5" y1="247.0" x2="131.5" y2="263.5" stroke="#555" stroke-width="1"/><rect x="129.5" y="248.0" width="4" height="15.5" fill="#fff" stroke="#1a1a1a" stroke-width="1.05"/><line x1="138.5" y1="243.3" x2="138.5" y2="261.2" stroke="#8a2218" stroke-width="1"/><rect x="136" y="253.5" width="5" height="2.0" fill="#8e1c10"/><line x1="144.5" y1="237.0" x2="144.5" y2="252.2" stroke="#555" stroke-width="1"/><rect x="142" y="243.8" width="5" height="2.2" fill="#1a1a1a"/><line x1="150.5" y1="233.2" x2="150.5" y2="251.4" stroke="#8a2218" stroke-width="1"/><rect x="148" y="240.5" width="5" height="8.6" fill="#8e1c10"/><line x1="157.5" y1="237.8" x2="157.5" y2="254.5" stroke="#555" stroke-width="1"/><rect x="155" y="244.6" width="5" height="2.2" fill="#1a1a1a"/><line x1="163.5" y1="231.0" x2="163.5" y2="255.2" stroke="#555" stroke-width="1"/><rect x="161.5" y="231.7" width="4" height="10.6" fill="#fff" stroke="#1a1a1a" stroke-width="1.05"/><line x1="170.5" y1="210.0" x2="170.5" y2="231.0" stroke="#555" stroke-width="1"/><rect x="168.5" y="211.2" width="4" height="11.0" fill="#fff" stroke="#1a1a1a" stroke-width="1.05"/><line x1="176.5" y1="196.7" x2="176.5" y2="210.4" stroke="#555" stroke-width="1"/><rect x="174.5" y="205.5" width="4" height="2.3" fill="#fff" stroke="#1a1a1a" stroke-width="1.05"/><line x1="182.5" y1="192.9" x2="182.5" y2="208.0" stroke="#8a2218" stroke-width="1"/><rect x="180" y="203.8" width="5" height="3.7" fill="#8e1c10"/><line x1="189.5" y1="193.7" x2="189.5" y2="203.0" stroke="#555" stroke-width="1"/><rect x="187.5" y="196.0" width="4" height="6.8" fill="#fff" stroke="#1a1a1a" stroke-width="1.05"/><line x1="195.5" y1="186.4" x2="195.5" y2="198.2" stroke="#555" stroke-width="1"/><rect x="193.5" y="188.6" width="4" height="3.2" fill="#fff" stroke="#1a1a1a" stroke-width="1.05"/><line x1="201.5" y1="188.2" x2="201.5" y2="226.6" stroke="#8a2218" stroke-width="1"/><rect x="199" y="189.8" width="5" height="13.7" fill="#8e1c10"/><line x1="208.5" y1="193.7" x2="208.5" y2="279.0" stroke="#8a2218" stroke-width="1"/><rect x="206" y="201.4" width="5" height="77.2" fill="#8e1c10"/><line x1="214.5" y1="233.0" x2="214.5" y2="305.5" stroke="#555" stroke-width="1"/><rect x="212.5" y="233.6" width="4" height="35.8" fill="#fff" stroke="#1a1a1a" stroke-width="1.05"/><line x1="221.5" y1="237.0" x2="221.5" y2="267.3" stroke="#8a2218" stroke-width="1"/><rect x="219" y="242.8" width="5" height="9.8" fill="#8e1c10"/><line x1="227.5" y1="252.0" x2="227.5" y2="303.2" stroke="#8a2218" stroke-width="1"/><rect x="225" y="252.4" width="5" height="36.1" fill="#8e1c10"/><line x1="233.5" y1="299.0" x2="233.5" y2="389.5" stroke="#8a2218" stroke-width="1"/><rect x="231" y="300.1" width="5" height="55.8" fill="#8e1c10"/><line x1="240.5" y1="339.6" x2="240.5" y2="379.8" stroke="#555" stroke-width="1"/><rect x="238.5" y="343.7" width="4" height="9.3" fill="#fff" stroke="#1a1a1a" stroke-width="1.05"/><line x1="246.5" y1="343.3" x2="246.5" y2="398.0" stroke="#8a2218" stroke-width="1"/><rect x="244" y="354.5" width="5" height="22.8" fill="#8e1c10"/><line x1="252.5" y1="352.5" x2="252.5" y2="389.0" stroke="#555" stroke-width="1"/><rect x="250.5" y="357.9" width="4" height="31.1" fill="#fff" stroke="#1a1a1a" stroke-width="1.05"/><line x1="259.5" y1="344.5" x2="259.5" y2="353.0" stroke="#555" stroke-width="1"/><rect x="257" y="350.4" width="5" height="2.2" fill="#1a1a1a"/><line x1="265.5" y1="381.7" x2="265.5" y2="433.3" stroke="#8a2218" stroke-width="1"/><rect x="263" y="391.2" width="5" height="34.8" fill="#8e1c10"/><line x1="272.5" y1="384.0" x2="272.5" y2="450.0" stroke="#555" stroke-width="1"/><rect x="270.5" y="385.1" width="4" height="37.2" fill="#fff" stroke="#1a1a1a" stroke-width="1.05"/><line x1="278.5" y1="371.2" x2="278.5" y2="394.4" stroke="#8a2218" stroke-width="1"/><rect x="276" y="380.2" width="5" height="8.6" fill="#8e1c10"/><line x1="284.5" y1="358.0" x2="284.5" y2="394.0" stroke="#555" stroke-width="1"/><rect x="282.5" y="359.0" width="4" height="30.0" fill="#fff" stroke="#1a1a1a" stroke-width="1.05"/><line x1="291.5" y1="356.6" x2="291.5" y2="392.0" stroke="#8a2218" stroke-width="1"/><rect x="289" y="364.6" width="5" height="26.7" fill="#8e1c10"/><line x1="297.5" y1="385.0" x2="297.5" y2="410.0" stroke="#555" stroke-width="1"/><rect x="295.5" y="386.2" width="4" height="13.2" fill="#fff" stroke="#1a1a1a" stroke-width="1.05"/><line x1="303.5" y1="366.8" x2="303.5" y2="381.0" stroke="#555" stroke-width="1"/><rect x="301.5" y="372.1" width="4" height="8.8" fill="#fff" stroke="#1a1a1a" stroke-width="1.05"/><line x1="310.5" y1="375.3" x2="310.5" y2="390.0" stroke="#555" stroke-width="1"/><rect x="308.5" y="380.2" width="4" height="5.6" fill="#fff" stroke="#1a1a1a" stroke-width="1.05"/><line x1="316.5" y1="358.0" x2="316.5" y2="374.0" stroke="#555" stroke-width="1"/><rect x="314.5" y="359.0" width="4" height="10.2" fill="#fff" stroke="#1a1a1a" stroke-width="1.05"/><line x1="323.5" y1="335.0" x2="323.5" y2="354.0" stroke="#555" stroke-width="1"/><rect x="321.5" y="336.4" width="4" height="17.0" fill="#fff" stroke="#1a1a1a" stroke-width="1.05"/><line x1="329.5" y1="320.6" x2="329.5" y2="343.7" stroke="#555" stroke-width="1"/><rect x="327.5" y="332.0" width="4" height="7.5" fill="#fff" stroke="#1a1a1a" stroke-width="1.05"/><line x1="335.5" y1="307.0" x2="335.5" y2="330.0" stroke="#555" stroke-width="1"/><rect x="333.5" y="307.9" width="4" height="21.9" fill="#fff" stroke="#1a1a1a" stroke-width="1.05"/><line x1="342.5" y1="296.2" x2="342.5" y2="313.3" stroke="#555" stroke-width="1"/><rect x="340.5" y="300.6" width="4" height="4.1" fill="#fff" stroke="#1a1a1a" stroke-width="1.05"/><line x1="348.5" y1="289.0" x2="348.5" y2="310.0" stroke="#555" stroke-width="1"/><rect x="346.5" y="290.1" width="4" height="19.5" fill="#fff" stroke="#1a1a1a" stroke-width="1.05"/><line x1="354.5" y1="281.6" x2="354.5" y2="298.0" stroke="#8a2218" stroke-width="1"/><rect x="352" y="286.5" width="5" height="10.9" fill="#8e1c10"/><line x1="361.5" y1="270.0" x2="361.5" y2="304.7" stroke="#555" stroke-width="1"/><rect x="359.5" y="271.3" width="4" height="30.3" fill="#fff" stroke="#1a1a1a" stroke-width="1.05"/><line x1="367.5" y1="256.5" x2="367.5" y2="268.5" stroke="#555" stroke-width="1"/><rect x="365.5" y="261.0" width="4" height="7.2" fill="#fff" stroke="#1a1a1a" stroke-width="1.05"/><line x1="374.5" y1="251.6" x2="374.5" y2="279.6" stroke="#8a2218" stroke-width="1"/><rect x="372" y="264.3" width="5" height="9.7" fill="#8e1c10"/><line x1="380.5" y1="265.0" x2="380.5" y2="283.0" stroke="#8a2218" stroke-width="1"/><rect x="378" y="276.4" width="5" height="4.9" fill="#8e1c10"/><line x1="386.5" y1="275.0" x2="386.5" y2="302.7" stroke="#555" stroke-width="1"/><rect x="384.5" y="275.5" width="4" height="5.8" fill="#fff" stroke="#1a1a1a" stroke-width="1.05"/><line x1="393.5" y1="256.5" x2="393.5" y2="270.0" stroke="#555" stroke-width="1"/><rect x="391.5" y="257.7" width="4" height="8.0" fill="#fff" stroke="#1a1a1a" stroke-width="1.05"/><line x1="399.5" y1="244.3" x2="399.5" y2="271.0" stroke="#8a2218" stroke-width="1"/><rect x="397" y="248.0" width="5" height="18.7" fill="#8e1c10"/><line x1="405.5" y1="256.5" x2="405.5" y2="277.2" stroke="#8a2218" stroke-width="1"/><rect x="403" y="267.5" width="5" height="2.0" fill="#8e1c10"/><line x1="412.5" y1="250.0" x2="412.5" y2="280.8" stroke="#555" stroke-width="1"/><rect x="410.5" y="251.1" width="4" height="19.5" fill="#fff" stroke="#1a1a1a" stroke-width="1.05"/><line x1="418.5" y1="260.0" x2="418.5" y2="327.0" stroke="#8a2218" stroke-width="1"/><rect x="416" y="260.9" width="5" height="51.1" fill="#8e1c10"/><line x1="425.5" y1="316.0" x2="425.5" y2="353.0" stroke="#8a2218" stroke-width="1"/><rect x="423" y="320.0" width="5" height="32.4" fill="#8e1c10"/><line x1="431.5" y1="340.2" x2="431.5" y2="364.7" stroke="#8a2218" stroke-width="1"/><rect x="429" y="346.0" width="5" height="6.4" fill="#8e1c10"/><line x1="437.5" y1="337.0" x2="437.5" y2="362.5" stroke="#555" stroke-width="1"/><rect x="435.5" y="337.6" width="4" height="12.2" fill="#fff" stroke="#1a1a1a" stroke-width="1.05"/><line x1="444.5" y1="329.2" x2="444.5" y2="355.6" stroke="#8a2218" stroke-width="1"/><rect x="442" y="332.9" width="5" height="16.0" fill="#8e1c10"/><line x1="450.5" y1="332.0" x2="450.5" y2="370.2" stroke="#555" stroke-width="1"/><rect x="448.5" y="332.9" width="4" height="25.5" fill="#fff" stroke="#1a1a1a" stroke-width="1.05"/><line x1="456.5" y1="312.0" x2="456.5" y2="325.6" stroke="#555" stroke-width="1"/><rect x="454.5" y="312.8" width="4" height="7.3" fill="#fff" stroke="#1a1a1a" stroke-width="1.05"/><line x1="463.5" y1="303.7" x2="463.5" y2="316.5" stroke="#555" stroke-width="1"/><rect x="461.5" y="307.0" width="4" height="2.5" fill="#fff" stroke="#1a1a1a" stroke-width="1.05"/><line x1="469.5" y1="301.0" x2="469.5" y2="313.5" stroke="#555" stroke-width="1"/><rect x="467.5" y="304.6" width="4" height="8.6" fill="#fff" stroke="#1a1a1a" stroke-width="1.05"/><line x1="476.5" y1="286.4" x2="476.5" y2="296.5" stroke="#555" stroke-width="1"/><rect x="474.5" y="289.1" width="4" height="7.0" fill="#fff" stroke="#1a1a1a" stroke-width="1.05"/><line x1="482.5" y1="280.0" x2="482.5" y2="296.0" stroke="#8a2218" stroke-width="1"/><rect x="480" y="285.5" width="5" height="10.0" fill="#8e1c10"/><line x1="488.5" y1="292.0" x2="488.5" y2="312.8" stroke="#8a2218" stroke-width="1"/><rect x="486" y="292.8" width="5" height="12.7" fill="#8e1c10"/><line x1="495.5" y1="292.0" x2="495.5" y2="306.5" stroke="#555" stroke-width="1"/><rect x="493.5" y="292.5" width="4" height="13.7" fill="#fff" stroke="#1a1a1a" stroke-width="1.05"/><line x1="501.5" y1="284.0" x2="501.5" y2="291.0" stroke="#555" stroke-width="1"/><rect x="499.5" y="285.4" width="4" height="5.1" fill="#fff" stroke="#1a1a1a" stroke-width="1.05"/><line x1="507.5" y1="283.0" x2="507.5" y2="297.0" stroke="#8a2218" stroke-width="1"/><rect x="505" y="286.9" width="5" height="9.4" fill="#8e1c10"/><line x1="514.5" y1="284.8" x2="514.5" y2="302.4" stroke="#8a2218" stroke-width="1"/><rect x="512" y="292.9" width="5" height="6.1" fill="#8e1c10"/><line x1="520.5" y1="288.4" x2="520.5" y2="304.2" stroke="#555" stroke-width="1"/><rect x="518.5" y="290.5" width="4" height="9.7" fill="#fff" stroke="#1a1a1a" stroke-width="1.05"/><line x1="527.5" y1="282.0" x2="527.5" y2="295.1" stroke="#555" stroke-width="1"/><rect x="525.5" y="282.4" width="4" height="8.1" fill="#fff" stroke="#1a1a1a" stroke-width="1.05"/><line x1="533.5" y1="276.3" x2="533.5" y2="288.5" stroke="#555" stroke-width="1"/><rect x="531.5" y="281.1" width="4" height="7.0" fill="#fff" stroke="#1a1a1a" stroke-width="1.05"/><line x1="539.5" y1="263.5" x2="539.5" y2="286.6" stroke="#8a2218" stroke-width="1"/><rect x="537" y="270.2" width="5" height="14.6" fill="#8e1c10"/><line x1="546.5" y1="290.3" x2="546.5" y2="318.8" stroke="#8a2218" stroke-width="1"/><rect x="544" y="297.3" width="5" height="5.4" fill="#8e1c10"/><line x1="552.5" y1="283.0" x2="552.5" y2="303.6" stroke="#555" stroke-width="1"/><rect x="550.5" y="283.6" width="4" height="9.7" fill="#fff" stroke="#1a1a1a" stroke-width="1.05"/><line x1="558.5" y1="270.2" x2="558.5" y2="281.5" stroke="#555" stroke-width="1"/><rect x="556.5" y="273.8" width="4" height="7.3" fill="#fff" stroke="#1a1a1a" stroke-width="1.05"/><line x1="565.5" y1="275.7" x2="565.5" y2="284.0" stroke="#8a2218" stroke-width="1"/><rect x="563" y="278.0" width="5" height="5.7" fill="#8e1c10"/><line x1="571.5" y1="279.0" x2="571.5" y2="318.5" stroke="#8a2218" stroke-width="1"/><rect x="569" y="279.5" width="5" height="38.5" fill="#8e1c10"/><line x1="578.5" y1="298.0" x2="578.5" y2="328.4" stroke="#555" stroke-width="1"/><rect x="576.5" y="298.3" width="4" height="26.8" fill="#fff" stroke="#1a1a1a" stroke-width="1.05"/><line x1="584.5" y1="295.6" x2="584.5" y2="312.0" stroke="#8a2218" stroke-width="1"/><rect x="582" y="298.2" width="5" height="2.0" fill="#8e1c10"/><line x1="590.5" y1="284.7" x2="590.5" y2="296.0" stroke="#555" stroke-width="1"/><rect x="588" y="293.8" width="5" height="2.2" fill="#1a1a1a"/><line x1="597.5" y1="296.5" x2="597.5" y2="305.0" stroke="#8a2218" stroke-width="1"/><rect x="595" y="297.1" width="5" height="7.6" fill="#8e1c10"/><line x1="603.5" y1="288.3" x2="603.5" y2="305.6" stroke="#555" stroke-width="1"/><rect x="601.5" y="298.3" width="4" height="2.8" fill="#fff" stroke="#1a1a1a" stroke-width="1.05"/><line x1="609.5" y1="278.0" x2="609.5" y2="290.5" stroke="#555" stroke-width="1"/><rect x="607.5" y="278.3" width="4" height="11.8" fill="#fff" stroke="#1a1a1a" stroke-width="1.05"/><line x1="616.5" y1="268.0" x2="616.5" y2="277.4" stroke="#555" stroke-width="1"/><rect x="614.5" y="268.3" width="4" height="3.3" fill="#fff" stroke="#1a1a1a" stroke-width="1.05"/><line x1="622.5" y1="260.0" x2="622.5" y2="270.1" stroke="#555" stroke-width="1"/><rect x="620" y="262.6" width="5" height="2.2" fill="#1a1a1a"/><line x1="629.5" y1="255.0" x2="629.5" y2="262.8" stroke="#555" stroke-width="1"/><rect x="627.5" y="255.2" width="4" height="4.3" fill="#fff" stroke="#1a1a1a" stroke-width="1.05"/><line x1="635.5" y1="226.0" x2="635.5" y2="248.5" stroke="#555" stroke-width="1"/><rect x="633.5" y="226.5" width="4" height="21.7" fill="#fff" stroke="#1a1a1a" stroke-width="1.05"/><line x1="641.5" y1="218.6" x2="641.5" y2="233.2" stroke="#555" stroke-width="1"/><rect x="639.5" y="222.0" width="4" height="3.5" fill="#fff" stroke="#1a1a1a" stroke-width="1.05"/><line x1="648.5" y1="218.6" x2="648.5" y2="233.2" stroke="#8a2218" stroke-width="1"/><rect x="646" y="221.9" width="5" height="7.2" fill="#8e1c10"/><line x1="654.5" y1="220.4" x2="654.5" y2="229.5" stroke="#8a2218" stroke-width="1"/><rect x="652" y="227.5" width="5" height="2.0" fill="#8e1c10"/><line x1="660.5" y1="220.4" x2="660.5" y2="235.6" stroke="#555" stroke-width="1"/><rect x="658.5" y="224.4" width="4" height="4.7" fill="#fff" stroke="#1a1a1a" stroke-width="1.05"/><line x1="667.5" y1="214.3" x2="667.5" y2="231.3" stroke="#555" stroke-width="1"/><rect x="665" y="223.7" width="5" height="2.2" fill="#1a1a1a"/><line x1="673.5" y1="219.2" x2="673.5" y2="233.8" stroke="#8a2218" stroke-width="1"/><rect x="671" y="224.1" width="5" height="2.0" fill="#8e1c10"/><line x1="680.5" y1="216.1" x2="680.5" y2="250.2" stroke="#8a2218" stroke-width="1"/><rect x="678" y="220.4" width="5" height="6.1" fill="#8e1c10"/><line x1="686.5" y1="221.0" x2="686.5" y2="239.0" stroke="#8a2218" stroke-width="1"/><rect x="684" y="221.4" width="5" height="17.2" fill="#8e1c10"/><line x1="692.5" y1="226.5" x2="692.5" y2="238.6" stroke="#555" stroke-width="1"/><rect x="690" y="231.8" width="5" height="2.2" fill="#1a1a1a"/><line x1="699.5" y1="224.0" x2="699.5" y2="239.0" stroke="#8a2218" stroke-width="1"/><rect x="697" y="224.3" width="5" height="14.2" fill="#8e1c10"/><line x1="705.5" y1="230.0" x2="705.5" y2="247.7" stroke="#555" stroke-width="1"/><rect x="703.5" y="230.5" width="4" height="9.0" fill="#fff" stroke="#1a1a1a" stroke-width="1.05"/><line x1="711.5" y1="188.0" x2="711.5" y2="222.5" stroke="#555" stroke-width="1"/><rect x="709.5" y="188.7" width="4" height="33.6" fill="#fff" stroke="#1a1a1a" stroke-width="1.05"/><line x1="718.5" y1="164.9" x2="718.5" y2="191.9" stroke="#555" stroke-width="1"/><rect x="716.5" y="167.9" width="4" height="14.4" fill="#fff" stroke="#1a1a1a" stroke-width="1.05"/><line x1="724.5" y1="156.8" x2="724.5" y2="176.0" stroke="#555" stroke-width="1"/><rect x="722.5" y="160.6" width="4" height="7.3" fill="#fff" stroke="#1a1a1a" stroke-width="1.05"/><line x1="731.5" y1="150.4" x2="731.5" y2="172.8" stroke="#8a2218" stroke-width="1"/><rect x="729" y="154.3" width="5" height="13.6" fill="#8e1c10"/><line x1="737.5" y1="149.0" x2="737.5" y2="166.8" stroke="#555" stroke-width="1"/><rect x="735.5" y="149.4" width="4" height="17.0" fill="#fff" stroke="#1a1a1a" stroke-width="1.05"/><line x1="743.5" y1="135.5" x2="743.5" y2="161.0" stroke="#8a2218" stroke-width="1"/><rect x="741" y="140.9" width="5" height="19.7" fill="#8e1c10"/><line x1="750.5" y1="151.5" x2="750.5" y2="172.8" stroke="#555" stroke-width="1"/><rect x="748.5" y="155.3" width="4" height="7.9" fill="#fff" stroke="#1a1a1a" stroke-width="1.05"/><line x1="756.5" y1="140.9" x2="756.5" y2="159.0" stroke="#555" stroke-width="1"/><rect x="754.5" y="144.7" width="4" height="7.4" fill="#fff" stroke="#1a1a1a" stroke-width="1.05"/><line x1="762.5" y1="126.0" x2="762.5" y2="143.0" stroke="#555" stroke-width="1"/><rect x="760.5" y="129.2" width="4" height="7.5" fill="#fff" stroke="#1a1a1a" stroke-width="1.05"/><line x1="769.5" y1="122.8" x2="769.5" y2="143.3" stroke="#8a2218" stroke-width="1"/><rect x="767" y="127.1" width="5" height="11.0" fill="#8e1c10"/><line x1="775.5" y1="125.0" x2="775.5" y2="140.0" stroke="#555" stroke-width="1"/><rect x="773" y="132.1" width="5" height="2.2" fill="#1a1a1a"/><line x1="782.5" y1="122.6" x2="782.5" y2="155.1" stroke="#8a2218" stroke-width="1"/><rect x="780" y="127.1" width="5" height="9.3" fill="#8e1c10"/><line x1="788.5" y1="119.2" x2="788.5" y2="148.5" stroke="#555" stroke-width="1"/><rect x="786.5" y="122.3" width="4" height="12.0" fill="#fff" stroke="#1a1a1a" stroke-width="1.05"/><line x1="794.5" y1="111.0" x2="794.5" y2="125.1" stroke="#555" stroke-width="1"/><rect x="792.5" y="111.7" width="4" height="6.4" fill="#fff" stroke="#1a1a1a" stroke-width="1.05"/><line x1="801.5" y1="117.6" x2="801.5" y2="141.8" stroke="#8a2218" stroke-width="1"/><rect x="799" y="122.6" width="5" height="8.3" fill="#8e1c10"/><line x1="807.5" y1="116.7" x2="807.5" y2="131.0" stroke="#555" stroke-width="1"/><rect x="805.5" y="118.7" width="4" height="12.2" fill="#fff" stroke="#1a1a1a" stroke-width="1.05"/><line x1="813.5" y1="109.2" x2="813.5" y2="128.0" stroke="#8a2218" stroke-width="1"/><rect x="811" y="113.7" width="5" height="13.9" fill="#8e1c10"/><line x1="820.5" y1="111.7" x2="820.5" y2="173.5" stroke="#8a2218" stroke-width="1"/><rect x="818" y="121.4" width="5" height="28.4" fill="#8e1c10"/><line x1="826.5" y1="130.9" x2="826.5" y2="163.5" stroke="#8a2218" stroke-width="1"/><rect x="824" y="147.6" width="5" height="9.5" fill="#8e1c10"/><line x1="833.5" y1="135.0" x2="833.5" y2="168.4" stroke="#555" stroke-width="1"/><rect x="831.5" y="135.6" width="4" height="27.4" fill="#fff" stroke="#1a1a1a" stroke-width="1.05"/><line x1="839.5" y1="98.9" x2="839.5" y2="126.5" stroke="#555" stroke-width="1"/><rect x="837.5" y="102.6" width="4" height="23.4" fill="#fff" stroke="#1a1a1a" stroke-width="1.05"/><line x1="845.5" y1="79.5" x2="845.5" y2="100.1" stroke="#555" stroke-width="1"/><rect x="843.5" y="85.5" width="4" height="6.6" fill="#fff" stroke="#1a1a1a" stroke-width="1.05"/><line x1="852.5" y1="71.0" x2="852.5" y2="102.6" stroke="#8a2218" stroke-width="1"/><rect x="850" y="78.2" width="5" height="18.3" fill="#8e1c10"/><line x1="858.5" y1="102.6" x2="858.5" y2="130.5" stroke="#8a2218" stroke-width="1"/><rect x="856" y="106.2" width="5" height="23.9" fill="#8e1c10"/><line x1="864.5" y1="83.1" x2="864.5" y2="119.6" stroke="#8a2218" stroke-width="1"/><rect x="862" y="91.1" width="5" height="24.4" fill="#8e1c10"/><line x1="871.5" y1="102.6" x2="871.5" y2="122.0" stroke="#555" stroke-width="1"/><rect x="869.5" y="107.4" width="4" height="9.8" fill="#fff" stroke="#1a1a1a" stroke-width="1.05"/><line x1="877.5" y1="95.3" x2="877.5" y2="111.5" stroke="#8a2218" stroke-width="1"/><rect x="875" y="100.9" width="5" height="10.2" fill="#8e1c10"/><line x1="884.5" y1="97.7" x2="884.5" y2="162.0" stroke="#8a2218" stroke-width="1"/><rect x="882" y="100.9" width="5" height="60.8" fill="#8e1c10"/><line x1="890.5" y1="150.0" x2="890.5" y2="218.2" stroke="#8a2218" stroke-width="1"/><rect x="888" y="157.3" width="5" height="43.8" fill="#8e1c10"/><line x1="896.5" y1="156.5" x2="896.5" y2="190.2" stroke="#555" stroke-width="1"/><rect x="894.5" y="156.8" width="4" height="28.5" fill="#fff" stroke="#1a1a1a" stroke-width="1.05"/><line x1="903.5" y1="139.1" x2="903.5" y2="152.0" stroke="#555" stroke-width="1"/><rect x="901" y="149.7" width="5" height="2.2" fill="#1a1a1a"/><line x1="909.5" y1="129.5" x2="909.5" y2="156.0" stroke="#555" stroke-width="1"/><rect x="907.5" y="130.0" width="4" height="25.8" fill="#fff" stroke="#1a1a1a" stroke-width="1.05"/><line x1="915.5" y1="118.4" x2="915.5" y2="138.5" stroke="#8a2218" stroke-width="1"/><rect x="913" y="127.3" width="5" height="8.2" fill="#8e1c10"/><line x1="922.5" y1="111.7" x2="922.5" y2="127.0" stroke="#555" stroke-width="1"/><rect x="920.5" y="119.7" width="4" height="4.0" fill="#fff" stroke="#1a1a1a" stroke-width="1.05"/><line x1="928.5" y1="106.9" x2="928.5" y2="127.6" stroke="#8a2218" stroke-width="1"/><rect x="926" y="117.1" width="5" height="2.0" fill="#8e1c10"/><line x1="935.5" y1="112.4" x2="935.5" y2="130.0" stroke="#8a2218" stroke-width="1"/><rect x="933" y="117.2" width="5" height="2.1" fill="#8e1c10"/><line x1="941.5" y1="110.0" x2="941.5" y2="127.6" stroke="#555" stroke-width="1"/><rect x="939.5" y="110.5" width="4" height="7.3" fill="#fff" stroke="#1a1a1a" stroke-width="1.05"/><line x1="947.5" y1="103.8" x2="947.5" y2="114.5" stroke="#555" stroke-width="1"/><rect x="945.5" y="110.5" width="4" height="3.7" fill="#fff" stroke="#1a1a1a" stroke-width="1.05"/><line x1="954.5" y1="108.0" x2="954.5" y2="129.4" stroke="#8a2218" stroke-width="1"/><rect x="952" y="108.3" width="5" height="7.7" fill="#8e1c10"/><line x1="960.5" y1="106.3" x2="960.5" y2="120.5" stroke="#555" stroke-width="1"/><rect x="958.5" y="115.4" width="4" height="4.9" fill="#fff" stroke="#1a1a1a" stroke-width="1.05"/><line x1="966.5" y1="100.8" x2="966.5" y2="117.0" stroke="#8a2218" stroke-width="1"/><rect x="964" y="106.9" width="5" height="10.0" fill="#8e1c10"/><line x1="973.5" y1="112.5" x2="973.5" y2="156.7" stroke="#8a2218" stroke-width="1"/><rect x="971" y="113.0" width="5" height="31.0" fill="#8e1c10"/><line x1="979.5" y1="117.0" x2="979.5" y2="135.5" stroke="#555" stroke-width="1"/><rect x="977.5" y="117.6" width="4" height="17.4" fill="#fff" stroke="#1a1a1a" stroke-width="1.05"/><line x1="986.5" y1="100.1" x2="986.5" y2="126.5" stroke="#555" stroke-width="1"/><rect x="984.5" y="102.5" width="4" height="5.8" fill="#fff" stroke="#1a1a1a" stroke-width="1.05"/><line x1="992.5" y1="87.4" x2="992.5" y2="108.3" stroke="#555" stroke-width="1"/><rect x="990" y="93.0" width="5" height="2.2" fill="#1a1a1a"/><line x1="998.5" y1="88.3" x2="998.5" y2="106.5" stroke="#8a2218" stroke-width="1"/><rect x="996" y="90.1" width="5" height="16.0" fill="#8e1c10"/><line x1="1005.5" y1="96.5" x2="1005.5" y2="106.5" stroke="#555" stroke-width="1"/><rect x="1003.5" y="98.9" width="4" height="7.2" fill="#fff" stroke="#1a1a1a" stroke-width="1.05"/><line x1="1011.5" y1="87.0" x2="1011.5" y2="100.5" stroke="#555" stroke-width="1"/><rect x="1009.5" y="89.2" width="4" height="10.9" fill="#fff" stroke="#1a1a1a" stroke-width="1.05"/><line x1="1017.5" y1="51.9" x2="1017.5" y2="76.8" stroke="#555" stroke-width="1"/><rect x="1015.5" y="54.0" width="4" height="22.4" fill="#fff" stroke="#1a1a1a" stroke-width="1.05"/><line x1="1024.5" y1="38.7" x2="1024.5" y2="58.0" stroke="#8a2218" stroke-width="1"/><rect x="1022" y="45.5" width="5" height="12.2" fill="#8e1c10"/><line x1="1030.5" y1="39.1" x2="1030.5" y2="63.7" stroke="#555" stroke-width="1"/><rect x="1028.5" y="49.1" width="4" height="12.2" fill="#fff" stroke="#1a1a1a" stroke-width="1.05"/><line x1="1037.5" y1="41.5" x2="1037.5" y2="54.6" stroke="#8a2218" stroke-width="1"/><rect x="1035" y="41.8" width="5" height="7.9" fill="#8e1c10"/><line x1="1043.5" y1="39.1" x2="1043.5" y2="83.0" stroke="#8a2218" stroke-width="1"/><rect x="1041" y="46.6" width="5" height="35.9" fill="#8e1c10"/><line x1="1049.5" y1="71.6" x2="1049.5" y2="102.0" stroke="#8a2218" stroke-width="1"/><rect x="1047" y="79.3" width="5" height="19.1" fill="#8e1c10"/><line x1="1056.5" y1="72.5" x2="1056.5" y2="134.9" stroke="#555" stroke-width="1"/><rect x="1054.5" y="72.8" width="4" height="28.5" fill="#fff" stroke="#1a1a1a" stroke-width="1.05"/><line x1="1062.5" y1="57.0" x2="1062.5" y2="93.5" stroke="#8a2218" stroke-width="1"/><rect x="1060" y="61.4" width="5" height="31.6" fill="#8e1c10"/><line x1="1068.5" y1="92.5" x2="1068.5" y2="117.0" stroke="#8a2218" stroke-width="1"/><rect x="1066" y="93.0" width="5" height="23.6" fill="#8e1c10"/><line x1="1075.5" y1="82.6" x2="1075.5" y2="150.5" stroke="#8a2218" stroke-width="1"/><rect x="1073" y="88.2" width="5" height="61.8" fill="#8e1c10"/><line x1="1081.5" y1="149.5" x2="1081.5" y2="187.2" stroke="#8a2218" stroke-width="1"/><rect x="1079" y="165.8" width="5" height="2.0" fill="#8e1c10"/><line x1="1088.5" y1="154.4" x2="1088.5" y2="173.8" stroke="#555" stroke-width="1"/><rect x="1086.5" y="162.9" width="4" height="4.8" fill="#fff" stroke="#1a1a1a" stroke-width="1.05"/><line x1="1094.5" y1="128.8" x2="1094.5" y2="175.0" stroke="#555" stroke-width="1"/><rect x="1092.5" y="132.9" width="4" height="34.8" fill="#fff" stroke="#1a1a1a" stroke-width="1.05"/><line x1="1100.5" y1="117.9" x2="1100.5" y2="133.7" stroke="#555" stroke-width="1"/><rect x="1098" y="122.2" width="5" height="2.2" fill="#1a1a1a"/><line x1="1107.5" y1="131.5" x2="1107.5" y2="176.3" stroke="#8a2218" stroke-width="1"/><rect x="1105" y="131.7" width="5" height="34.8" fill="#8e1c10"/><line x1="1113.5" y1="113.5" x2="1113.5" y2="186.0" stroke="#555" stroke-width="1"/><rect x="1111.5" y="114.1" width="4" height="63.4" fill="#fff" stroke="#1a1a1a" stroke-width="1.05"/><line x1="1119.5" y1="100.3" x2="1119.5" y2="112.5" stroke="#555" stroke-width="1"/><rect x="1117.5" y="105.6" width="4" height="6.5" fill="#fff" stroke="#1a1a1a" stroke-width="1.05"/><line x1="1126.5" y1="104.8" x2="1126.5" y2="134.5" stroke="#8a2218" stroke-width="1"/><rect x="1124" y="117.4" width="5" height="9.2" fill="#8e1c10"/><line x1="1132.5" y1="107.1" x2="1132.5" y2="133.7" stroke="#555" stroke-width="1"/><rect x="1130.5" y="115.5" width="4" height="14.4" fill="#fff" stroke="#1a1a1a" stroke-width="1.05"/><line x1="1139.5" y1="79.8" x2="1139.5" y2="95.7" stroke="#555" stroke-width="1"/><rect x="1137" y="89.0" width="5" height="2.2" fill="#1a1a1a"/><line x1="1145.5" y1="82.0" x2="1145.5" y2="98.0" stroke="#555" stroke-width="1"/><rect x="1143.5" y="85.5" width="4" height="6.4" fill="#fff" stroke="#1a1a1a" stroke-width="1.05"/><line x1="1151.5" y1="71.4" x2="1151.5" y2="88.9" stroke="#555" stroke-width="1"/><rect x="1149.5" y="79.8" width="4" height="5.3" fill="#fff" stroke="#1a1a1a" stroke-width="1.05"/><line x1="1158.5" y1="69.1" x2="1158.5" y2="91.9" stroke="#555" stroke-width="1"/><rect x="1156.5" y="72.5" width="4" height="6.5" fill="#fff" stroke="#1a1a1a" stroke-width="1.05"/><line x1="1164.5" y1="76.0" x2="1164.5" y2="85.5" stroke="#8a2218" stroke-width="1"/><rect x="1162" y="83.2" width="5" height="2.0" fill="#8e1c10"/><line x1="1170.5" y1="90.4" x2="1170.5" y2="124.0" stroke="#8a2218" stroke-width="1"/><rect x="1168" y="104.4" width="5" height="19.4" fill="#8e1c10"/>
<line x1="2" y1="123.7" x2="1207" y2="123.7" stroke="#6a4040" stroke-width="1.2" stroke-dasharray="1.1 2.06"/>
</g>
<g clip-path="url(#cr)">
<rect x="2" y="514.2" width="1205" height="74.3" fill="#e4e4f4"/>
<line x1="2" y1="532.8" x2="1207" y2="532.8" stroke="#d8d8e4" stroke-width="1"/>
<line x1="2" y1="569.5" x2="1207" y2="569.5" stroke="#d8d8e4" stroke-width="1"/>
<line x1="48.4" y1="493" x2="48.4" y2="593" stroke="#d0d0dc" stroke-width="1"/>
<line x1="188.6" y1="493" x2="188.6" y2="593" stroke="#d0d0dc" stroke-width="1"/>
<line x1="329.5" y1="493" x2="329.5" y2="593" stroke="#d0d0dc" stroke-width="1"/>
<line x1="469.4" y1="493" x2="469.4" y2="593" stroke="#d0d0dc" stroke-width="1"/>
<line x1="596.5" y1="493" x2="596.5" y2="593" stroke="#d0d0dc" stroke-width="1"/>
<line x1="730.4" y1="493" x2="730.4" y2="593" stroke="#d0d0dc" stroke-width="1"/>
<line x1="870.5" y1="493" x2="870.5" y2="593" stroke="#d0d0dc" stroke-width="1"/>
<line x1="1017.2" y1="493" x2="1017.2" y2="593" stroke="#d0d0dc" stroke-width="1"/>
<line x1="1138.5" y1="493" x2="1138.5" y2="593" stroke="#d0d0dc" stroke-width="1"/>
<line x1="2" y1="514.2" x2="1207" y2="514.2" stroke="#8fb0cf" stroke-width="1.3" stroke-dasharray="5 6.35" stroke-dashoffset="9.55"/>
<line x1="2" y1="588.5" x2="1207" y2="588.5" stroke="#8fb0cf" stroke-width="1.3" stroke-dasharray="5 6.35" stroke-dashoffset="9.55"/>
<polyline points="3.8,527.3 10.1,520.3 16.5,515.6 22.9,512.3 29.3,525.0 35.6,517.2 42.0,514.1 48.4,510.7 54.8,509.3 61.1,501.5 67.5,498.8 73.9,513.4 80.3,541.3 86.7,535.1 93.0,540.7 99.4,529.0 105.8,525.5 112.2,523.5 118.5,530.7 124.9,529.1 131.3,522.1 137.7,525.2 144.0,522.3 150.4,525.2 156.8,524.3 163.2,519.4 169.5,513.3 175.9,511.7 182.3,513.1 188.7,509.7 195.0,508.5 201.4,517.7 207.8,558.0 214.2,541.0 220.5,548.4 226.9,560.6 233.3,577.5 239.7,576.4 246.0,581.7 252.4,573.9 258.8,571.7 265.1,587.0 271.5,572.5 277.9,573.3 284.3,563.4 290.6,570.7 297.0,569.0 303.4,567.1 309.8,568.4 316.1,558.7 322.5,551.2 328.9,549.8 335.3,542.3 341.6,541.3 348.0,536.8 354.4,539.8 360.8,531.8 367.1,530.9 373.5,533.7 379.9,537.2 386.3,535.1 392.6,528.9 399.0,533.8 405.4,535.1 411.8,528.4 418.1,556.4 424.5,569.3 430.9,569.3 437.3,562.8 443.6,566.5 450.0,559.4 456.4,551.1 462.8,549.8 469.1,547.8 475.5,541.5 481.9,544.6 488.3,549.4 494.6,543.7 501.0,542.8 507.4,546.0 513.8,547.5 520.1,543.0 526.5,543.0 532.9,537.9 539.3,540.6 545.6,549.2 552.0,541.1 558.4,539.6 564.8,541.6 571.1,563.2 577.5,551.1 583.9,551.1 590.3,549.5 596.6,555.3 603.0,551.0 609.4,539.0 615.8,533.7 622.1,530.9 628.5,527.1 634.9,515.1 641.3,514.7 647.6,517.9 654.0,517.9 660.4,517.9 666.8,516.1 673.1,515.6 679.5,518.2 685.9,531.9 692.3,528.4 698.6,533.9 705.0,528.2 711.4,507.7 717.8,501.0 724.1,498.9 730.5,506.2 736.9,500.5 743.3,511.0 749.6,509.1 756.0,505.5 762.4,500.8 768.8,509.3 775.1,507.8 781.5,510.4 787.9,505.2 794.3,503.8 800.6,516.7 807.0,511.7 813.4,520.1 819.8,538.2 826.1,543.3 832.5,532.0 838.9,518.7 845.3,513.2 851.6,521.0 858.0,527.6 864.4,533.7 870.8,530.2 877.1,532.8 883.5,560.4 889.9,574.8 896.3,554.7 902.6,552.0 909.0,544.5 915.4,546.8 921.8,540.9 928.1,540.6 934.5,540.8 940.9,540.1 947.3,538.5 953.6,539.6 960.0,539.3 966.4,540.4 972.8,557.4 979.1,542.9 985.5,535.9 991.9,532.5 998.3,539.7 1004.6,539.7 1011.0,531.6 1017.4,518.2 1023.8,520.8 1030.2,517.8 1036.5,518.3 1042.9,540.3 1049.3,549.0 1055.7,537.5 1062.0,547.9 1068.4,547.9 1074.8,570.9 1081.2,576.3 1087.5,573.8 1093.9,559.4 1100.3,555.6 1106.7,570.1 1113.0,550.0 1119.4,549.4 1125.8,554.5 1132.2,550.4 1138.5,541.9 1144.9,540.1 1151.3,538.2 1157.7,537.9 1164.0,540.9 1170.4,557.6" fill="none" stroke="#383a4c" stroke-width="2.3" stroke-linejoin="round"/>
</g>
<rect x="2" y="2.6" width="1262" height="1.4" fill="#111"/>
<line x1="2" y1="492.5" x2="1264" y2="492.5" stroke="#666" stroke-width="1.5"/>
<line x1="2" y1="593.5" x2="1264" y2="593.5" stroke="#666" stroke-width="1.5"/>
<line x1="1207" y1="4" x2="1207" y2="625" stroke="#888" stroke-width="1.3"/>
<rect x="2" y="633.1" width="1262" height="1.4" fill="#111"/>
<g font-family="Liberation Sans, Arial, sans-serif" font-size="13.3" fill="#555" stroke="#555" stroke-width="0.15"><line x1="1207" y1="481.7" x2="1212" y2="481.7" stroke="#888" stroke-width="1"/><text x="1217.8" y="485.6" textLength="39.1" lengthAdjust="spacingAndGlyphs" clip-path="url(#cpx)">1200.00</text><line x1="1207" y1="429.1" x2="1212" y2="429.1" stroke="#888" stroke-width="1"/><text x="1217.8" y="433.0" textLength="39.1" lengthAdjust="spacingAndGlyphs" clip-path="url(#cpx)">1240.00</text><line x1="1207" y1="376.4" x2="1212" y2="376.4" stroke="#888" stroke-width="1"/><text x="1217.8" y="380.3" textLength="39.1" lengthAdjust="spacingAndGlyphs" clip-path="url(#cpx)">1280.00</text><line x1="1207" y1="323.7" x2="1212" y2="323.7" stroke="#888" stroke-width="1"/><text x="1217.8" y="327.6" textLength="39.1" lengthAdjust="spacingAndGlyphs" clip-path="url(#cpx)">1320.00</text><line x1="1207" y1="271.1" x2="1212" y2="271.1" stroke="#888" stroke-width="1"/><text x="1217.8" y="275.0" textLength="39.1" lengthAdjust="spacingAndGlyphs" clip-path="url(#cpx)">1360.00</text><line x1="1207" y1="218.4" x2="1212" y2="218.4" stroke="#888" stroke-width="1"/><text x="1217.8" y="222.3" textLength="39.1" lengthAdjust="spacingAndGlyphs" clip-path="url(#cpx)">1400.00</text><line x1="1207" y1="165.7" x2="1212" y2="165.7" stroke="#888" stroke-width="1"/><text x="1217.8" y="169.6" textLength="39.1" lengthAdjust="spacingAndGlyphs" clip-path="url(#cpx)">1440.00</text><line x1="1207" y1="113.1" x2="1212" y2="113.1" stroke="#888" stroke-width="1"/><text x="1217.8" y="117.0" textLength="39.1" lengthAdjust="spacingAndGlyphs" clip-path="url(#cpx)">1480.00</text><line x1="1207" y1="60.4" x2="1212" y2="60.4" stroke="#888" stroke-width="1"/><text x="1217.8" y="64.3" textLength="39.1" lengthAdjust="spacingAndGlyphs" clip-path="url(#cpx)">1520.00</text><line x1="1207" y1="7.7" x2="1212" y2="7.7" stroke="#888" stroke-width="1"/><text x="1217.8" y="11.6" textLength="39.1" lengthAdjust="spacingAndGlyphs" clip-path="url(#cpx)">1560.00</text><line x1="1207" y1="496.1" x2="1212" y2="496.1" stroke="#888" stroke-width="1"/><text x="1217.8" y="500.0" textLength="28" lengthAdjust="spacingAndGlyphs" clip-path="url(#cax)">80.00</text><line x1="1207" y1="532.8" x2="1212" y2="532.8" stroke="#888" stroke-width="1"/><text x="1217.8" y="536.7" textLength="28" lengthAdjust="spacingAndGlyphs" clip-path="url(#cax)">60.00</text><line x1="1207" y1="569.5" x2="1212" y2="569.5" stroke="#888" stroke-width="1"/><text x="1217.8" y="573.4" textLength="28" lengthAdjust="spacingAndGlyphs" clip-path="url(#cax)">40.00</text></g>
<rect x="1207" y="114" width="56" height="19.5" rx="1.5" fill="#8e1c10"/>
<text x="1217.4" y="128.6" textLength="39.5" lengthAdjust="spacingAndGlyphs" font-family="Liberation Sans, Arial, sans-serif" font-size="13" font-weight="bold" fill="#fff">1471.96</text>
<g font-family="Liberation Sans, Arial, sans-serif" font-size="13.3" fill="#555" stroke="#555" stroke-width="0.15"><line x1="48.4" y1="593.5" x2="48.4" y2="598.5" stroke="#666" stroke-width="1"/><text x="28.1" y="613" textLength="40.6" lengthAdjust="spacingAndGlyphs">Tháng 6</text><line x1="188.6" y1="593.5" x2="188.6" y2="598.5" stroke="#666" stroke-width="1"/><text x="168.2" y="613" textLength="40.8" lengthAdjust="spacingAndGlyphs">Tháng 7</text><line x1="329.5" y1="593.5" x2="329.5" y2="598.5" stroke="#666" stroke-width="1"/><text x="309.1" y="613" textLength="40.8" lengthAdjust="spacingAndGlyphs">Tháng 8</text><line x1="469.4" y1="593.5" x2="469.4" y2="598.5" stroke="#666" stroke-width="1"/><text x="448.9" y="613" textLength="41" lengthAdjust="spacingAndGlyphs">Tháng 9</text><line x1="596.5" y1="593.5" x2="596.5" y2="598.5" stroke="#666" stroke-width="1"/><text x="573.2" y="613" textLength="46.5" lengthAdjust="spacingAndGlyphs">Tháng 10</text><line x1="730.4" y1="593.5" x2="730.4" y2="598.5" stroke="#666" stroke-width="1"/><text x="707.1" y="613" textLength="46.5" lengthAdjust="spacingAndGlyphs">Tháng 11</text><line x1="870.5" y1="593.5" x2="870.5" y2="598.5" stroke="#666" stroke-width="1"/><text x="847.0" y="613" textLength="47" lengthAdjust="spacingAndGlyphs">Tháng 12</text><line x1="1017.2" y1="593.5" x2="1017.2" y2="598.5" stroke="#666" stroke-width="1"/><text x="1003.8" y="613" textLength="26.8" lengthAdjust="spacingAndGlyphs" fill="#3a3a3a" stroke="#3a3a3a" stroke-width="0.55">2022</text><line x1="1138.5" y1="593.5" x2="1138.5" y2="598.5" stroke="#666" stroke-width="1"/><text x="1118.2" y="613" textLength="40.7" lengthAdjust="spacingAndGlyphs">Tháng 2</text></g>
<g stroke="#222" stroke-width="1.4" fill="none"><circle cx="1237.5" cy="610.2" r="4.9"/><line x1="1242.7" y1="610.2" x2="1246.2" y2="610.2"/><line x1="1241.2" y1="613.9" x2="1242.9" y2="615.6"/><line x1="1237.5" y1="615.4" x2="1237.5" y2="618.9"/><line x1="1233.8" y1="613.9" x2="1232.1" y2="615.6"/><line x1="1232.3" y1="610.2" x2="1228.8" y2="610.2"/><line x1="1233.8" y1="606.5" x2="1232.1" y2="604.8"/><line x1="1237.5" y1="605.0" x2="1237.5" y2="601.5"/><line x1="1241.2" y1="606.5" x2="1242.9" y2="604.8"/></g>
<g font-family="Liberation Sans, Arial, sans-serif">
<text x="11.1" y="28.5" font-size="19" textLength="159" lengthAdjust="spacingAndGlyphs" fill="#555" stroke="#555" stroke-width="0.1" >Chỉ số VNINDEX · 1D</text>
<circle cx="195.7" cy="23.1" r="8.7" fill="#ececec"/>
<rect x="191.3" y="21.6" width="9" height="3" rx="1.5" fill="#8a8a8a"/>
<text x="222.9" y="29.8" font-size="16" textLength="100.5" lengthAdjust="spacingAndGlyphs" fill="#7a3a3a" stroke="#7a3a3a" stroke-width="0.2" >−29.75 (−1.98%)</text>
<text x="11.1" y="57.0" font-size="16.3" textLength="47.3" lengthAdjust="spacingAndGlyphs" fill="#555" stroke="#555" stroke-width="0.2" >BB 20 2</text>
<text x="10.9" y="85.4" font-size="16.3" textLength="77.9" lengthAdjust="spacingAndGlyphs" fill="#555" stroke="#555" stroke-width="0.2" >MA 5 close 0</text>
<text x="10.9" y="114.1" font-size="16.3" textLength="85.4" lengthAdjust="spacingAndGlyphs" fill="#555" stroke="#555" stroke-width="0.2" >MA 50 close 0</text>
<text x="10.9" y="141.8" font-size="16.3" textLength="124.1" lengthAdjust="spacingAndGlyphs" fill="#555" stroke="#555" stroke-width="0.2" >Volume - Khối lượng</text>
</g>
<rect x="11" y="153.5" width="29" height="23" rx="2" fill="#fff" stroke="#ddd" stroke-width="1"/>
<polyline points="21.5,167.5 25.5,163.5 29.5,167.5" fill="none" stroke="#222" stroke-width="1.8"/>
<rect x="9" y="503" width="52" height="24" fill="#fff" fill-opacity="0.6"/>
<g font-family="Liberation Sans, Arial, sans-serif"><text x="10.9" y="518.2" font-size="16.3" textLength="40.9" lengthAdjust="spacingAndGlyphs" fill="#555" stroke="#555" stroke-width="0.2" >RSI 14</text></g>
<g font-family="Liberation Sans, Arial, sans-serif"><text x="2.7" y="651.8" font-size="17.5" textLength="318.8" lengthAdjust="spacingAndGlyphs" fill="#1e1e1e" stroke="#1e1e1e" stroke-width="0" >Nguồn : Trading View, KB Securities Vietnam</text></g>
<circle cx="25.5" cy="565.5" r="16.5" fill="#fff" stroke="#d6d6dc" stroke-width="1"/>
<g fill="#3a98dc"><circle cx="18.6" cy="568.1" r="4.4"/><circle cx="24.2" cy="563.9" r="6.1"/><circle cx="31.6" cy="567.6" r="4.9"/><rect x="18.6" y="566" width="13" height="6.6"/></g>
<polyline points="16.2,569.4 22.4,562.4 28.5,569.6 34.2,563.4" fill="none" stroke="#fff" stroke-width="1.4" stroke-linejoin="round"/>
</svg>
</body></html>
